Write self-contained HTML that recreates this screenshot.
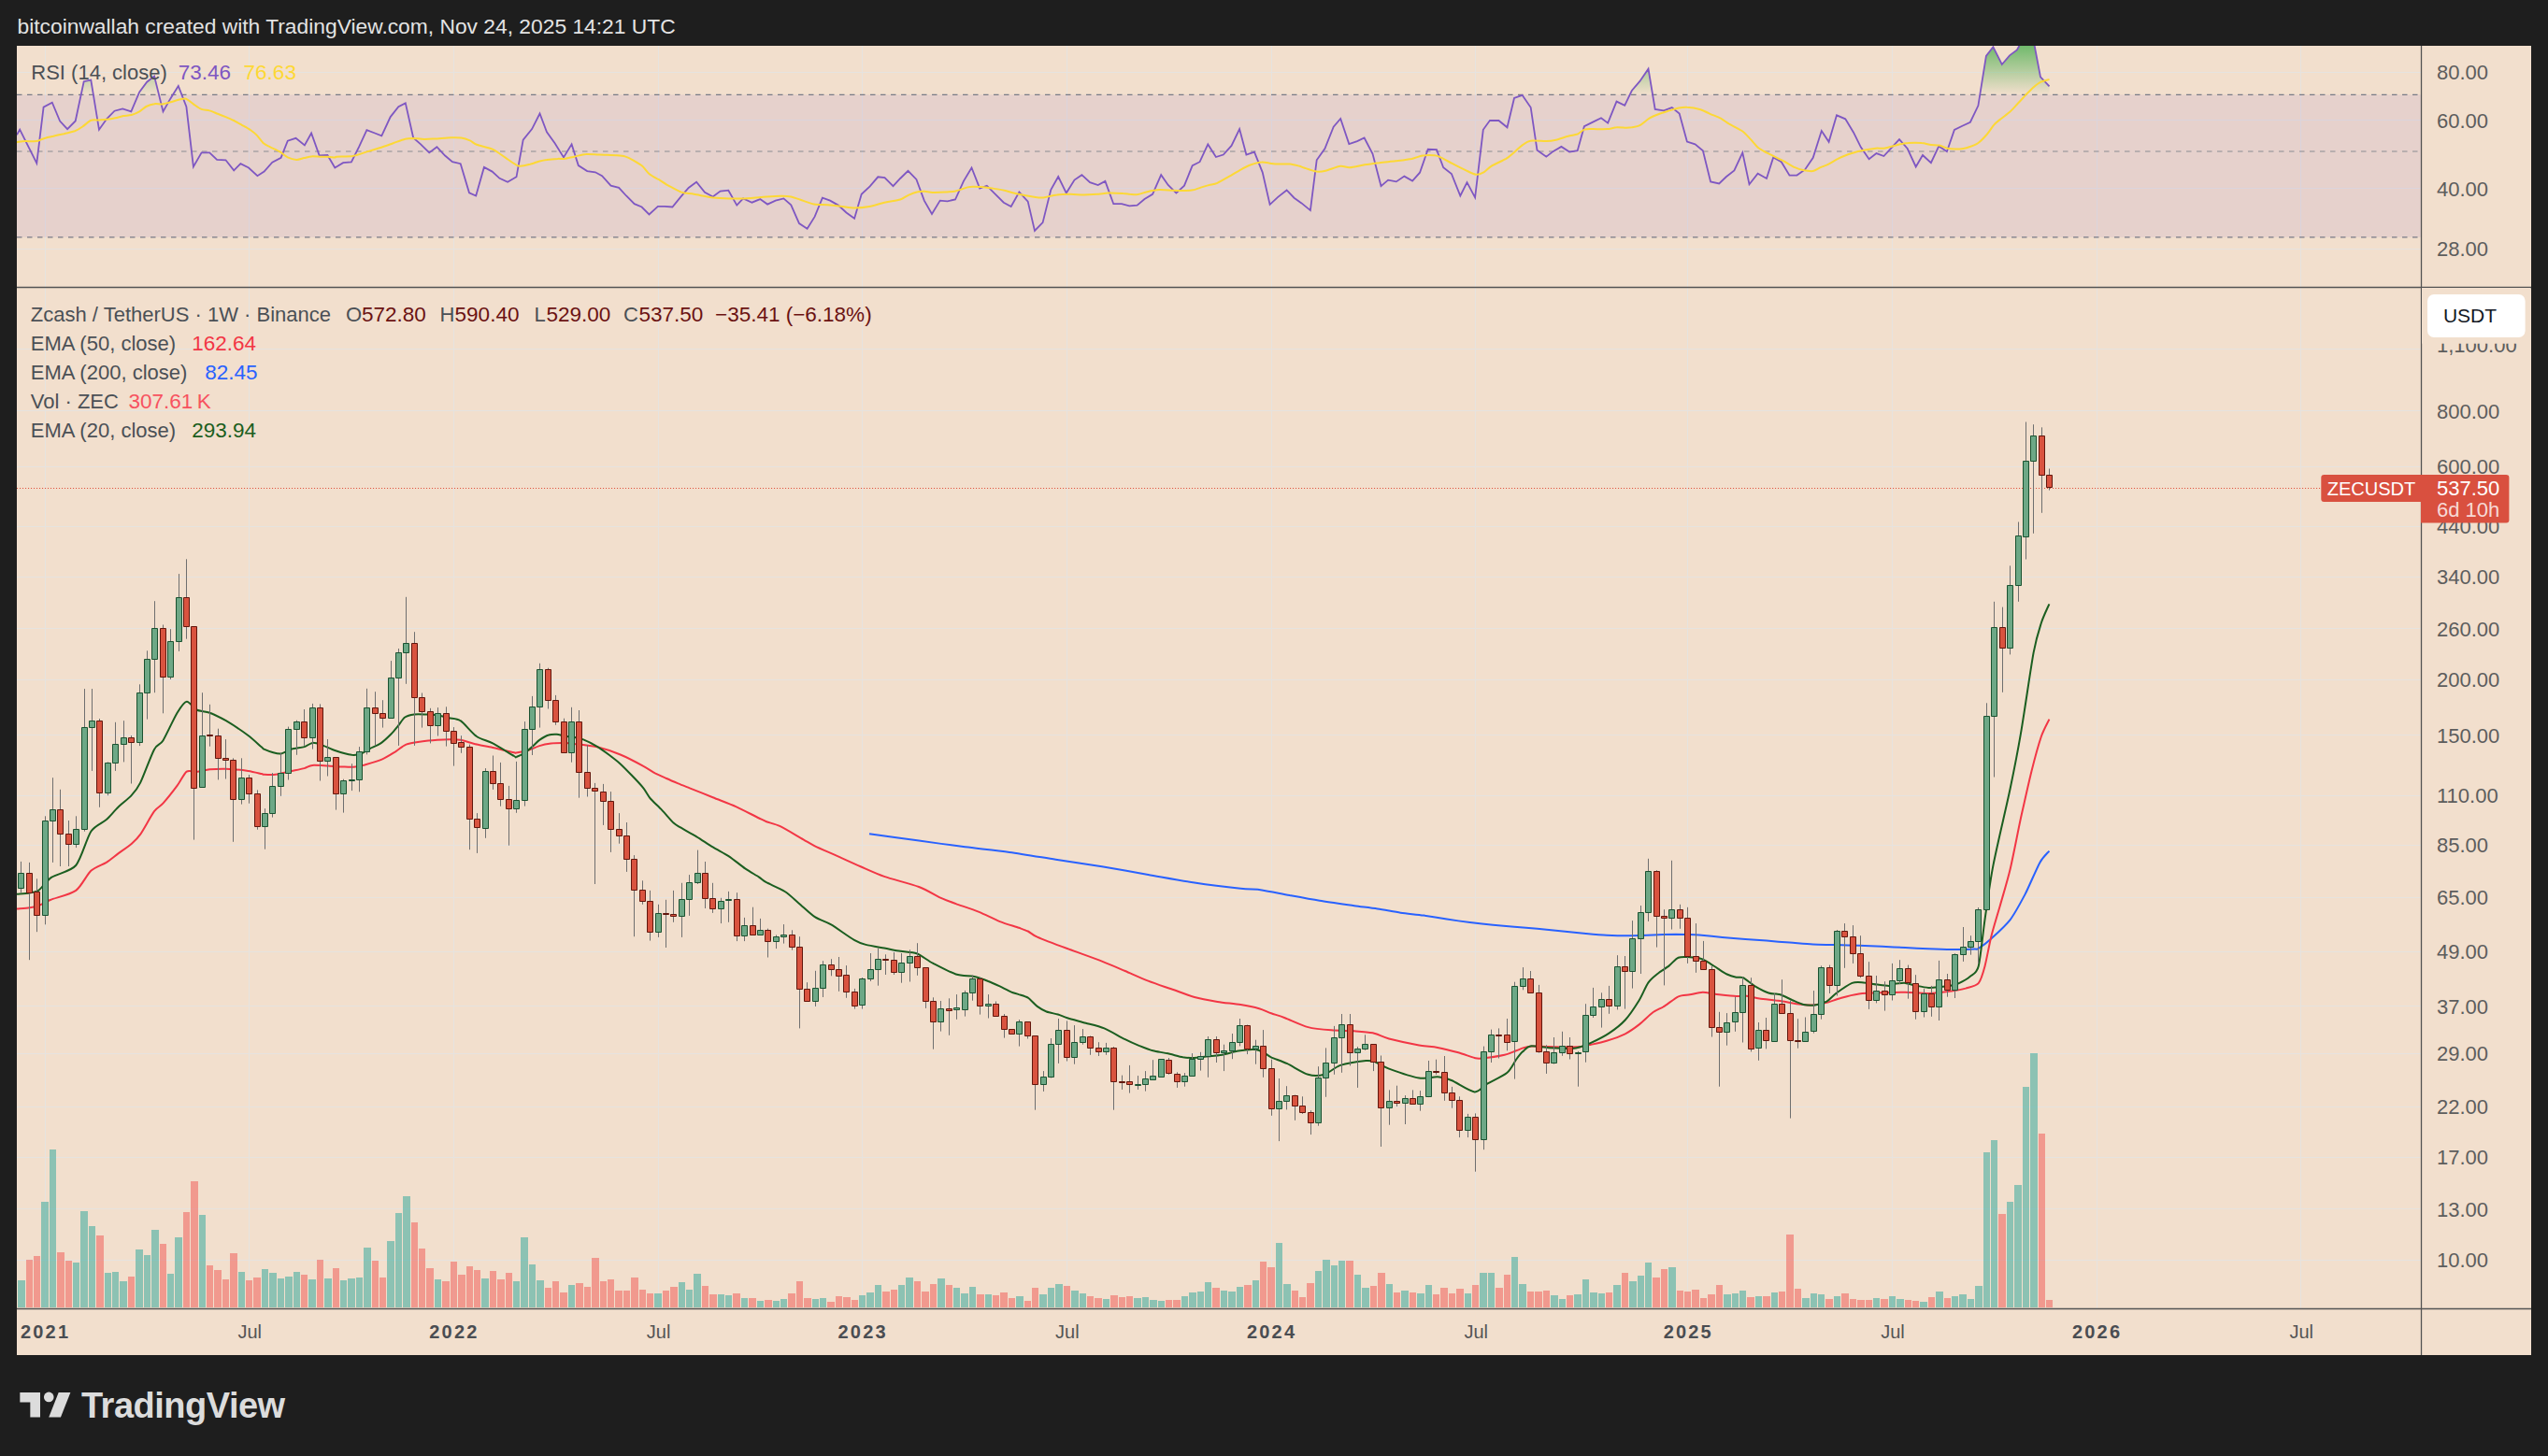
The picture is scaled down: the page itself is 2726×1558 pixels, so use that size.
<!DOCTYPE html>
<html><head><meta charset="utf-8"><style>html,body{margin:0;padding:0;background:#1e1e1e;width:2726px;height:1558px;overflow:hidden}</style></head>
<body><svg width="2726" height="1558" viewBox="0 0 2726 1558" style="display:block"><rect x="0" y="0" width="2726" height="1558" fill="#1e1e1e"/><text x="18.5" y="36" font-family="Liberation Sans, sans-serif" font-size="22.8" fill="#e3e3e3">bitcoinwallah created with TradingView.com, Nov 24, 2025 14:21 UTC</text><rect x="18" y="49" width="2690" height="1401" fill="#f2dfcd"/><defs><clipPath id="rsiclip"><rect x="18" y="49" width="2572" height="258"/></clipPath><clipPath id="mainclip"><rect x="18" y="308" width="2572" height="1092"/></clipPath><linearGradient id="obg" gradientUnits="userSpaceOnUse" x1="0" y1="37.2" x2="0" y2="101.4"><stop offset="0" stop-color="#4caf50" stop-opacity="0.95"/><stop offset="1" stop-color="#4caf50" stop-opacity="0"/></linearGradient></defs><path d="M48.5 49V1400M266.5 49V1400M485.5 49V1400M704.5 49V1400M922.5 49V1400M1141.5 49V1400M1360.5 49V1400M1578.5 49V1400M1805.5 49V1400M2024.5 49V1400M2243.5 49V1400M2461.5 49V1400M18 77.5H2590M18 128.5H2590M18 201.5H2590M18 266.5H2590M18 373.5H2590M18 439.5H2590M18 499.5H2590M18 563.5H2590M18 617.5H2590M18 672.5H2590M18 727.5H2590M18 786.5H2590M18 851.5H2590M18 904.5H2590M18 960.5H2590M18 1018.5H2590M18 1076.5H2590M18 1127.5H2590M18 1184.5H2590M18 1238.5H2590M18 1293.5H2590M18 1348.5H2590" stroke="#e6e3df" stroke-width="1" fill="none"/><g clip-path="url(#rsiclip)"><rect x="18" y="101.4" width="2572" height="152.5" fill="rgb(126,87,194)" fill-opacity="0.1"/><polygon points="18,101.4 18.0,101.4 21.2,101.4 39.3,101.4 46.6,101.4 55.8,101.4 64.1,101.4 72.1,101.4 80.7,101.4 86.7,101.4 89.7,87.2 97.3,85.5 99.9,101.4 106.0,101.4 114.3,101.4 122.5,101.4 131.2,101.4 140.3,101.4 148.0,101.4 149.2,98.5 157.2,87.7 165.1,81.5 170.0,101.4 174.5,101.4 182.4,101.4 184.9,101.4 190.8,92.0 194.4,101.4 199.4,101.4 206.9,101.4 215.6,101.4 224.2,101.4 232.1,101.4 241.5,101.4 250.2,101.4 257.4,101.4 266.0,101.4 275.4,101.4 282.6,101.4 291.3,101.4 300.6,101.4 307.8,101.4 316.5,101.4 325.9,101.4 333.1,101.4 341.7,101.4 350.4,101.4 358.3,101.4 367.1,101.4 375.9,101.4 384.2,101.4 392.4,101.4 401.1,101.4 408.3,101.4 417.7,101.4 426.3,101.4 433.8,101.4 442.2,101.4 450.1,101.4 459.2,101.4 467.4,101.4 476.1,101.4 484.0,101.4 492.7,101.4 502.0,101.4 509.2,101.4 517.9,101.4 526.6,101.4 534.5,101.4 543.1,101.4 552.5,101.4 559.7,101.4 569.1,101.4 577.5,101.4 585.0,101.4 593.6,101.4 603.0,101.4 611.6,101.4 618.8,101.4 628.2,101.4 636.9,101.4 644.1,101.4 653.5,101.4 662.1,101.4 670.0,101.4 678.7,101.4 686.6,101.4 694.5,101.4 703.9,101.4 710.9,101.4 719.4,101.4 728.1,101.4 736.7,101.4 745.1,101.4 754.0,101.4 762.7,101.4 770.6,101.4 779.3,101.4 788.3,101.4 795.1,101.4 804.5,101.4 813.2,101.4 821.1,101.4 829.7,101.4 838.4,101.4 846.3,101.4 855.0,101.4 863.6,101.4 871.6,101.4 879.9,101.4 888.1,101.4 896.8,101.4 905.4,101.4 914.1,101.4 921.7,101.4 930.7,101.4 939.3,101.4 946.5,101.4 955.5,101.4 963.1,101.4 971.5,101.4 980.4,101.4 988.8,101.4 997.0,101.4 1005.7,101.4 1013.6,101.4 1022.0,101.4 1030.9,101.4 1039.5,101.4 1048.2,101.4 1055.8,101.4 1064.4,101.4 1073.8,101.4 1081.7,101.4 1090.4,101.4 1099.7,101.4 1107.0,101.4 1115.6,101.4 1124.3,101.4 1132.2,101.4 1140.8,101.4 1149.5,101.4 1157.4,101.4 1166.1,101.4 1174.7,101.4 1182.4,101.4 1191.3,101.4 1200.0,101.4 1208.3,101.4 1216.6,101.4 1224.5,101.4 1233.1,101.4 1242.2,101.4 1249.7,101.4 1258.4,101.4 1267.0,101.4 1275.7,101.4 1283.6,101.4 1292.3,101.4 1300.9,101.4 1308.8,101.4 1317.5,101.4 1326.1,101.4 1333.4,101.4 1342.0,101.4 1350.7,101.4 1358.6,101.4 1367.2,101.4 1376.6,101.4 1384.5,101.4 1392.5,101.4 1401.9,101.4 1408.7,101.4 1417.4,101.4 1426.7,101.4 1434.2,101.4 1443.3,101.4 1452.0,101.4 1459.6,101.4 1468.5,101.4 1477.5,101.4 1485.1,101.4 1493.8,101.4 1502.4,101.4 1511.1,101.4 1519.0,101.4 1527.7,101.4 1537.0,101.4 1544.2,101.4 1552.9,101.4 1562.3,101.4 1569.5,101.4 1578.1,101.4 1586.8,101.4 1594.0,101.4 1603.4,101.4 1612.5,101.4 1620.0,101.4 1628.6,101.4 1637.7,101.4 1644.5,101.4 1654.3,101.4 1661.8,101.4 1670.4,101.4 1679.1,101.4 1687.7,101.4 1694.9,101.4 1703.6,101.4 1713.0,101.4 1720.2,101.4 1729.5,101.4 1738.2,101.4 1743.7,101.4 1745.8,97.0 1754.4,86.9 1763.5,73.7 1768.1,101.4 1770.7,101.4 1780.1,101.4 1788.7,101.4 1796.7,101.4 1804.9,101.4 1813.5,101.4 1821.9,101.4 1830.1,101.4 1839.2,101.4 1846.7,101.4 1855.4,101.4 1864.3,101.4 1871.5,101.4 1880.6,101.4 1890.0,101.4 1897.2,101.4 1905.8,101.4 1914.5,101.4 1922.4,101.4 1931.1,101.4 1939.7,101.4 1948.8,101.4 1956.6,101.4 1965.0,101.4 1974.3,101.4 1983.0,101.4 1990.9,101.4 1999.6,101.4 2007.5,101.4 2015.4,101.4 2024.1,101.4 2032.0,101.4 2040.7,101.4 2049.7,101.4 2057.0,101.4 2065.9,101.4 2074.3,101.4 2082.9,101.4 2090.9,101.4 2099.4,101.4 2107.9,101.4 2116.4,101.4 2118.3,101.4 2124.9,59.9 2132.4,50.3 2141.8,69.0 2150.0,59.4 2157.9,53.5 2165.9,38.6 2174.3,36.5 2183.0,82.3 2192.5,92.4 2192.5,101.4" fill="url(#obg)"/><line x1="18" y1="101.4" x2="2590" y2="101.4" stroke="#787b86" stroke-opacity="1" stroke-width="1.3" stroke-dasharray="5.5 5.5"/><line x1="18" y1="162.0" x2="2590" y2="162.0" stroke="#787b86" stroke-opacity="0.55" stroke-width="1.3" stroke-dasharray="5.5 5.5"/><line x1="18" y1="253.9" x2="2590" y2="253.9" stroke="#787b86" stroke-opacity="1" stroke-width="1.3" stroke-dasharray="5.5 5.5"/><polyline points="18.0,144.3 21.2,138.6 39.3,174.6 46.6,114.6 55.8,109.7 64.1,129.5 72.1,138.1 80.7,129.5 89.7,87.2 97.3,85.5 106.0,138.8 114.3,127.0 122.5,118.7 131.2,116.5 140.3,119.4 149.2,98.5 157.2,87.7 165.1,81.5 174.5,119.4 182.4,105.4 190.8,92.0 199.4,114.3 206.9,178.5 215.6,163.4 224.2,163.4 232.1,170.9 241.5,171.3 250.2,182.4 257.4,175.2 266.0,179.5 275.4,188.2 282.6,183.6 291.3,173.7 300.6,168.8 307.8,150.7 316.5,147.8 325.9,155.4 333.1,142.5 341.7,166.5 350.4,166.0 358.3,179.5 367.1,174.2 375.9,173.5 384.2,156.9 392.4,139.1 401.1,142.5 408.3,145.3 417.7,125.1 426.3,114.3 433.8,110.4 442.2,147.5 450.1,154.4 459.2,163.4 467.4,157.2 476.1,166.5 484.0,173.2 492.7,175.2 502.0,206.3 509.2,209.5 517.9,178.9 526.6,183.6 534.5,190.8 543.1,194.8 552.5,189.3 559.7,149.7 569.1,138.1 577.5,121.5 585.0,141.4 593.6,153.3 603.0,168.4 611.6,154.4 618.8,177.1 628.2,183.1 636.9,184.3 644.1,188.2 653.5,198.7 662.1,200.9 670.0,209.5 678.7,218.2 686.6,221.5 694.5,229.4 703.9,220.8 710.9,220.8 719.4,221.5 728.1,210.9 736.7,200.9 745.1,194.8 754.0,205.9 762.7,210.5 770.6,204.5 779.3,203.7 788.3,219.6 795.1,212.4 804.5,216.7 813.2,213.1 821.1,218.6 829.7,214.6 838.4,212.4 846.3,219.3 855.0,239.1 863.6,244.8 871.6,231.9 879.9,211.7 888.1,214.6 896.8,219.6 905.4,227.5 914.1,233.7 921.7,207.8 930.7,199.4 939.3,189.3 946.5,190.0 955.5,199.1 963.1,191.0 971.5,182.8 980.4,191.9 988.8,214.6 997.0,229.0 1005.7,214.6 1013.6,215.3 1022.0,213.5 1030.9,193.9 1039.5,179.5 1048.2,201.6 1055.8,198.7 1064.4,207.3 1073.8,216.7 1081.7,221.0 1090.4,205.5 1099.7,215.6 1107.0,247.0 1115.6,238.1 1124.3,203.0 1132.2,189.0 1140.8,206.6 1149.5,192.6 1157.4,187.2 1166.1,195.1 1174.7,198.0 1182.4,193.9 1191.3,218.2 1200.0,218.2 1208.3,220.3 1216.6,219.6 1224.5,213.1 1233.1,207.8 1242.2,187.2 1249.7,198.0 1258.4,206.6 1267.0,198.7 1275.7,177.1 1283.6,173.2 1292.3,154.4 1300.9,168.0 1308.8,165.5 1317.5,155.9 1326.1,138.1 1333.4,165.5 1342.0,162.6 1350.7,184.3 1358.6,218.9 1367.2,210.9 1376.6,203.5 1384.5,211.7 1392.5,217.4 1401.9,225.1 1408.7,171.3 1417.4,159.0 1426.7,135.7 1434.2,127.0 1443.3,154.0 1452.0,151.1 1459.6,147.5 1468.5,164.5 1477.5,199.1 1485.1,192.6 1493.8,194.4 1502.4,188.6 1511.1,193.6 1519.0,184.7 1527.7,159.8 1537.0,160.2 1544.2,179.2 1552.9,186.0 1562.3,209.5 1569.5,195.1 1578.1,211.4 1586.8,138.8 1594.0,128.8 1603.4,129.0 1612.5,136.3 1620.0,105.0 1628.6,101.8 1637.7,115.1 1644.5,160.8 1654.3,167.7 1661.8,161.9 1670.4,156.9 1679.1,162.6 1687.7,161.2 1694.9,135.2 1703.6,130.9 1713.0,126.3 1720.2,131.6 1729.5,108.6 1738.2,112.9 1745.8,97.0 1754.4,86.9 1763.5,73.7 1770.7,116.9 1780.1,118.4 1788.7,115.1 1796.7,121.5 1804.9,151.5 1813.5,154.4 1821.9,161.2 1830.1,194.4 1839.2,196.5 1846.7,189.3 1855.4,182.4 1864.3,163.4 1871.5,197.2 1880.6,185.7 1890.0,191.0 1897.2,168.4 1905.8,173.2 1914.5,187.6 1922.4,187.6 1931.1,181.4 1939.7,168.8 1948.8,140.0 1956.6,151.8 1965.0,123.3 1974.3,127.3 1983.0,141.7 1990.9,157.6 1999.6,170.3 2007.5,164.1 2015.4,167.0 2024.1,157.6 2032.0,149.2 2040.7,159.0 2049.7,178.5 2057.0,166.0 2065.9,174.2 2074.3,156.4 2082.9,162.2 2090.9,138.9 2099.4,134.7 2107.9,130.7 2116.4,113.1 2124.9,59.9 2132.4,50.3 2141.8,69.0 2150.0,59.4 2157.9,53.5 2165.9,38.6 2174.3,36.5 2183.0,82.3 2192.5,92.4" fill="none" stroke="#7e57c2" stroke-width="1.8" stroke-linejoin="miter"/><path d="M18.0 152.1C19.2 152.0 23.8 151.2 26.7 151.1C29.5 151.0 36.7 151.5 39.3 151.1C42.0 150.7 44.5 148.9 46.8 148.2C49.2 147.5 54.1 146.4 56.9 145.8C59.8 145.1 65.4 143.9 68.5 143.2C71.5 142.4 77.3 141.3 80.0 140.3C82.7 139.2 86.4 136.8 88.7 135.2C91.0 133.7 95.0 129.7 97.3 128.8C99.6 127.8 103.7 128.6 106.0 128.5C108.3 128.3 112.3 128.0 114.6 127.7C116.9 127.5 121.0 126.8 123.3 126.3C125.6 125.8 129.6 124.6 131.9 124.1C134.2 123.7 138.3 123.6 140.6 123.0C142.9 122.4 147.1 120.6 149.2 119.4C151.3 118.2 154.3 115.1 156.4 114.0C158.5 112.9 162.8 111.5 165.1 111.2C167.4 110.8 171.4 111.7 173.7 111.4C176.0 111.2 180.1 109.9 182.4 109.3C184.7 108.7 188.8 107.3 191.0 106.8C193.3 106.4 196.9 105.1 199.0 105.7C201.1 106.3 204.7 109.9 206.9 111.4C209.1 112.9 213.2 116.0 215.6 116.9C217.9 117.9 221.9 117.7 224.2 118.4C226.5 119.0 230.6 120.9 232.9 121.8C235.2 122.7 239.2 124.2 241.5 125.1C243.8 126.1 247.9 127.9 250.2 129.0C252.5 130.2 256.5 132.5 258.8 133.8C261.1 135.1 265.4 137.4 267.5 138.8C269.6 140.3 272.8 142.7 274.7 144.6C276.6 146.5 280.0 151.6 281.9 153.3C283.8 155.0 286.8 156.1 289.1 157.3C291.4 158.5 296.7 160.7 299.2 162.2C301.7 163.7 305.4 167.3 307.8 168.4C310.3 169.6 314.9 170.8 317.2 170.9C319.5 171.0 323.0 169.6 325.2 169.1C327.3 168.7 330.8 167.6 333.1 167.4C335.4 167.2 340.1 167.6 342.5 167.7C344.9 167.7 349.0 167.6 351.1 167.7C353.2 167.8 357.1 168.6 358.3 168.6C359.5 168.6 357.5 167.9 360.0 167.7C362.5 167.5 373.1 167.6 377.3 167.0C381.5 166.3 387.9 163.8 391.7 162.6C395.6 161.5 402.3 159.6 406.1 158.3C410.0 157.1 416.9 154.6 420.6 153.3C424.2 152.0 430.7 149.4 433.5 148.7C436.4 147.9 439.5 147.9 442.2 147.9C444.9 148.0 450.7 148.9 453.7 148.9C456.8 149.0 461.4 148.7 465.3 148.5C469.1 148.3 478.8 147.3 482.6 147.2C486.3 147.1 490.7 147.1 493.4 147.5C496.1 147.9 500.5 149.4 502.8 150.4C505.0 151.3 506.7 153.5 510.0 154.7C513.2 156.0 523.2 157.9 527.3 159.8C531.3 161.6 536.6 166.0 540.3 168.4C543.9 170.8 551.0 176.5 554.7 177.5C558.3 178.5 564.8 176.3 567.7 175.6C570.5 175.0 574.0 173.4 576.3 172.7C578.6 172.1 582.3 171.2 585.0 170.9C587.6 170.5 594.0 170.0 596.5 169.9C599.0 169.7 601.2 170.2 603.7 169.9C606.2 169.5 612.2 168.0 615.2 167.4C618.3 166.8 623.3 165.3 626.8 165.1C630.2 164.8 636.8 165.4 641.2 165.5C645.6 165.7 656.3 166.0 659.9 166.2C663.6 166.5 666.3 166.7 668.6 167.4C670.9 168.1 674.7 169.9 677.2 171.3C679.7 172.7 685.0 175.8 687.3 177.8C689.6 179.8 692.4 184.3 694.5 186.1C696.7 188.0 701.8 190.7 703.2 191.5C704.6 192.3 703.2 191.1 705.0 192.2C706.8 193.3 713.3 197.6 716.5 199.4C719.8 201.2 726.1 204.8 729.5 205.9C733.0 207.0 738.1 207.0 742.5 207.8C746.9 208.5 757.7 210.8 762.7 211.4C767.7 212.0 775.8 212.3 780.0 212.4C784.2 212.5 789.8 212.6 794.4 212.4C799.0 212.2 809.2 211.3 814.6 210.9C820.0 210.6 830.6 209.9 834.8 209.8C839.0 209.7 843.4 210.0 846.3 210.5C849.2 211.1 853.1 212.8 856.4 213.8C859.7 214.9 867.0 217.9 870.8 218.6C874.7 219.3 881.4 218.9 885.3 219.2C889.1 219.5 895.8 220.3 899.7 220.8C903.5 221.2 910.1 222.4 914.1 222.5C918.1 222.5 925.5 221.9 930.0 221.0C934.4 220.2 942.8 217.4 947.3 216.4C951.7 215.4 959.9 214.6 963.1 213.5C966.4 212.5 969.3 209.9 971.8 208.8C974.3 207.7 979.6 205.7 981.9 205.2C984.2 204.6 987.0 204.7 989.1 204.7C991.2 204.8 994.7 205.8 997.7 205.9C1000.8 206.0 1008.9 205.7 1012.2 205.5C1015.4 205.3 1019.2 205.1 1022.2 204.5C1025.3 203.8 1032.7 201.1 1035.2 200.4C1037.7 199.8 1039.0 199.7 1041.0 199.7C1043.0 199.7 1047.3 199.9 1050.0 200.1C1052.7 200.4 1058.3 201.1 1061.5 201.6C1064.8 202.1 1071.1 203.0 1074.5 203.7C1078.0 204.5 1083.1 206.4 1087.5 207.3C1091.9 208.3 1103.8 210.4 1107.7 210.9C1111.5 211.5 1113.3 211.7 1116.3 211.4C1119.4 211.0 1126.9 208.8 1130.8 208.4C1134.6 207.9 1141.3 207.8 1145.2 207.8C1149.0 207.8 1155.6 208.5 1159.6 208.5C1163.6 208.5 1172.0 208.0 1175.5 207.8C1178.9 207.5 1182.1 206.7 1185.6 206.6C1189.0 206.5 1198.3 206.9 1201.4 207.1C1204.5 207.2 1206.5 207.6 1208.6 207.8C1210.7 207.9 1214.8 208.4 1217.3 208.1C1219.8 207.7 1224.3 205.9 1227.4 205.2C1230.4 204.5 1236.7 203.2 1240.3 203.0C1244.0 202.8 1251.3 203.6 1254.8 203.7C1258.2 203.9 1263.4 204.1 1266.3 204.0C1269.2 204.0 1273.7 203.8 1276.4 203.3C1279.1 202.8 1284.2 200.8 1286.5 200.1C1288.8 199.4 1291.6 198.5 1293.7 198.0C1295.8 197.4 1299.3 197.2 1302.4 195.8C1305.4 194.5 1313.5 189.7 1316.8 187.9C1320.0 186.0 1324.0 183.4 1326.9 181.8C1329.8 180.3 1335.3 177.5 1338.4 176.3C1341.5 175.2 1347.1 173.6 1349.9 173.5C1352.8 173.3 1357.3 174.6 1360.0 174.9C1362.7 175.2 1367.4 175.5 1370.1 175.6C1372.8 175.7 1377.5 175.3 1380.2 175.6C1382.9 175.9 1388.3 177.3 1390.3 177.8C1392.3 178.3 1392.5 178.7 1395.0 179.5C1397.5 180.3 1405.6 183.1 1408.7 183.6C1411.8 184.0 1414.7 183.6 1418.1 182.8C1421.4 182.1 1430.5 178.3 1433.9 177.8C1437.4 177.3 1440.6 179.4 1444.0 179.2C1447.5 179.0 1455.7 177.0 1459.9 176.3C1464.1 175.7 1471.3 174.7 1475.8 174.2C1480.2 173.6 1488.4 172.9 1493.1 172.3C1497.7 171.7 1506.5 170.6 1510.4 169.9C1514.2 169.1 1518.8 167.0 1521.9 166.5C1525.0 166.1 1531.1 166.1 1533.4 166.2C1535.7 166.4 1536.5 166.2 1539.2 167.4C1541.9 168.6 1549.8 172.9 1553.6 174.9C1557.5 176.9 1564.7 180.5 1568.0 182.1C1571.4 183.7 1576.4 186.4 1578.9 186.7C1581.4 187.1 1584.6 185.9 1586.8 184.7C1589.0 183.5 1592.2 179.8 1595.4 177.8C1598.7 175.8 1608.0 171.8 1611.3 169.9C1614.6 167.9 1617.6 164.9 1620.0 162.9C1622.3 161.0 1626.3 157.1 1628.6 155.4C1630.9 153.8 1633.8 151.2 1637.3 150.7C1640.7 150.1 1650.9 151.2 1654.6 151.1C1658.2 151.0 1661.6 150.4 1664.7 149.7C1667.7 149.0 1674.6 146.6 1677.6 145.8C1680.7 144.9 1685.4 144.4 1687.7 143.5C1690.0 142.5 1692.6 139.3 1694.9 138.6C1697.2 137.8 1701.8 138.2 1705.0 138.1C1708.3 138.1 1716.2 138.4 1719.5 138.1C1722.7 137.9 1726.8 136.4 1729.5 136.3C1732.3 136.1 1737.8 136.7 1740.0 136.7C1742.2 136.7 1743.8 136.6 1745.8 136.3C1747.7 135.9 1751.9 135.5 1754.4 134.2C1756.9 132.9 1761.6 128.3 1764.5 126.6C1767.4 124.9 1773.2 122.6 1776.1 121.5C1778.9 120.4 1783.5 119.2 1786.1 118.4C1788.8 117.6 1793.7 116.0 1796.2 115.5C1798.7 115.0 1801.8 114.5 1804.9 114.8C1808.0 115.0 1816.0 116.3 1819.3 117.2C1822.6 118.2 1826.5 120.6 1829.4 121.8C1832.3 123.1 1838.2 125.2 1840.9 126.6C1843.6 128.0 1846.5 130.5 1849.6 132.4C1852.7 134.2 1860.9 138.1 1864.0 140.3C1867.1 142.5 1870.4 146.5 1872.7 148.9C1875.0 151.3 1879.0 156.4 1881.3 158.3C1883.6 160.2 1887.7 162.1 1890.0 163.4C1892.3 164.6 1895.9 166.3 1898.6 167.7C1901.3 169.0 1907.3 171.9 1910.2 173.5C1913.0 175.0 1917.8 178.1 1920.3 179.2C1922.8 180.4 1926.3 181.6 1928.9 182.1C1931.5 182.6 1937.2 183.5 1939.7 183.1C1942.2 182.7 1945.4 180.2 1947.7 179.2C1949.9 178.2 1953.8 176.9 1956.3 175.6C1958.8 174.4 1963.7 171.2 1966.4 169.9C1969.1 168.5 1973.6 166.6 1976.5 165.5C1979.4 164.5 1984.0 162.8 1988.0 161.9C1992.1 161.0 2003.1 159.2 2006.8 158.7C2010.4 158.3 2012.2 159.3 2015.4 158.7C2018.7 158.2 2027.8 155.5 2031.3 154.7C2034.7 153.9 2038.1 153.2 2041.4 153.0C2044.7 152.7 2052.5 152.7 2055.8 153.0C2059.1 153.2 2063.4 154.7 2065.9 155.0C2068.4 155.3 2072.4 155.1 2074.7 155.6C2077.1 156.1 2081.1 158.2 2083.4 158.7C2085.7 159.2 2089.7 159.4 2091.9 159.4C2094.2 159.5 2098.5 159.2 2100.5 158.9C2102.4 158.6 2104.7 158.1 2106.8 157.3C2109.0 156.5 2113.9 154.9 2116.4 153.0C2119.0 151.2 2123.7 146.1 2126.0 143.5C2128.3 140.8 2131.5 135.6 2133.5 133.4C2135.4 131.2 2138.6 128.8 2140.9 127.0C2143.2 125.1 2148.1 121.7 2150.5 119.5C2152.9 117.3 2156.7 112.9 2159.0 110.5C2161.3 108.1 2165.2 103.8 2167.5 101.4C2169.8 99.1 2173.9 94.7 2176.0 92.9C2178.2 91.1 2181.3 88.6 2183.5 87.6C2185.7 86.5 2191.3 85.3 2192.5 84.9" fill="none" stroke="#fdd835" stroke-width="2"/></g><g clip-path="url(#mainclip)"><path d="M19 1399V1370H27V1399ZM44 1399V1286H52V1399ZM53 1399V1230H60V1399ZM78 1399V1351H85V1399ZM86 1399V1296H94V1399ZM95 1399V1312H102V1399ZM112 1399V1362H119V1399ZM120 1399V1361H127V1399ZM128 1399V1371H136V1399ZM145 1399V1337H153V1399ZM154 1399V1343H161V1399ZM162 1399V1316H170V1399ZM179 1399V1363H186V1399ZM187 1399V1324H195V1399ZM213 1399V1300H220V1399ZM255 1399V1361H262V1399ZM280 1399V1358H287V1399ZM288 1399V1362H296V1399ZM297 1399V1368H304V1399ZM305 1399V1366H313V1399ZM314 1399V1361H321V1399ZM330 1399V1369H338V1399ZM347 1399V1368H355V1399ZM364 1399V1370H371V1399ZM372 1399V1368H380V1399ZM381 1399V1367H388V1399ZM389 1399V1335H397V1399ZM414 1399V1328H422V1399ZM423 1399V1298H430V1399ZM431 1399V1280H439V1399ZM465 1399V1369H472V1399ZM515 1399V1368H523V1399ZM549 1399V1371H556V1399ZM557 1399V1324H565V1399ZM566 1399V1353H573V1399ZM574 1399V1370H582V1399ZM608 1399V1375H615V1399ZM700 1399V1384H708V1399ZM726 1399V1372H733V1399ZM734 1399V1380H741V1399ZM742 1399V1363H750V1399ZM768 1399V1385H775V1399ZM776 1399V1386H783V1399ZM793 1399V1389H800V1399ZM810 1399V1392H817V1399ZM827 1399V1392H834V1399ZM835 1399V1390H842V1399ZM869 1399V1390H876V1399ZM877 1399V1389H884V1399ZM919 1399V1386H926V1399ZM927 1399V1383H935V1399ZM936 1399V1375H943V1399ZM961 1399V1375H968V1399ZM969 1399V1367H977V1399ZM1003 1399V1368H1011V1399ZM1020 1399V1378H1027V1399ZM1028 1399V1384H1036V1399ZM1037 1399V1377H1044V1399ZM1054 1399V1385H1061V1399ZM1087 1399V1387H1095V1399ZM1112 1399V1385H1120V1399ZM1121 1399V1378H1128V1399ZM1129 1399V1374H1137V1399ZM1146 1399V1381H1154V1399ZM1155 1399V1384H1162V1399ZM1180 1399V1390H1187V1399ZM1213 1399V1389H1221V1399ZM1222 1399V1388H1229V1399ZM1230 1399V1391H1238V1399ZM1239 1399V1392H1246V1399ZM1264 1399V1387H1271V1399ZM1272 1399V1383H1280V1399ZM1281 1399V1382H1288V1399ZM1289 1399V1372H1296V1399ZM1306 1399V1381H1313V1399ZM1314 1399V1382H1322V1399ZM1323 1399V1377H1330V1399ZM1340 1399V1370H1347V1399ZM1365 1399V1330H1372V1399ZM1373 1399V1374H1381V1399ZM1407 1399V1360H1414V1399ZM1415 1399V1348H1423V1399ZM1424 1399V1354H1431V1399ZM1432 1399V1349H1439V1399ZM1449 1399V1364H1456V1399ZM1457 1399V1378H1465V1399ZM1483 1399V1374H1490V1399ZM1499 1399V1381H1507V1399ZM1516 1399V1384H1524V1399ZM1525 1399V1375H1532V1399ZM1567 1399V1384H1574V1399ZM1583 1399V1362H1591V1399ZM1592 1399V1362H1599V1399ZM1617 1399V1345H1624V1399ZM1625 1399V1374H1633V1399ZM1659 1399V1386H1667V1399ZM1668 1399V1390H1675V1399ZM1684 1399V1385H1692V1399ZM1693 1399V1369H1700V1399ZM1701 1399V1383H1709V1399ZM1710 1399V1384H1717V1399ZM1726 1399V1375H1734V1399ZM1743 1399V1371H1751V1399ZM1752 1399V1365H1759V1399ZM1760 1399V1351H1767V1399ZM1785 1399V1356H1793V1399ZM1844 1399V1385H1852V1399ZM1853 1399V1384H1860V1399ZM1861 1399V1381H1868V1399ZM1878 1399V1387H1885V1399ZM1895 1399V1383H1902V1399ZM1928 1399V1389H1936V1399ZM1937 1399V1384H1944V1399ZM1945 1399V1385H1952V1399ZM1962 1399V1387H1969V1399ZM2004 1399V1389H2011V1399ZM2021 1399V1387H2028V1399ZM2029 1399V1390H2037V1399ZM2054 1399V1393H2062V1399ZM2071 1399V1382H2079V1399ZM2088 1399V1387H2095V1399ZM2096 1399V1385H2104V1399ZM2105 1399V1390H2112V1399ZM2113 1399V1376H2121V1399ZM2122 1399V1233H2129V1399ZM2130 1399V1220H2137V1399ZM2147 1399V1286H2154V1399ZM2155 1399V1268H2163V1399ZM2164 1399V1163H2171V1399ZM2172 1399V1127H2180V1399Z" fill="rgb(38,166,154)" fill-opacity="0.5"/><path d="M28 1399V1348H35V1399ZM36 1399V1344H43V1399ZM61 1399V1340H69V1399ZM70 1399V1349H77V1399ZM103 1399V1322H111V1399ZM137 1399V1366H144V1399ZM171 1399V1331H178V1399ZM196 1399V1297H203V1399ZM204 1399V1264H212V1399ZM221 1399V1354H228V1399ZM229 1399V1359H237V1399ZM238 1399V1369H245V1399ZM246 1399V1341H254V1399ZM263 1399V1370H270V1399ZM271 1399V1367H279V1399ZM322 1399V1364H329V1399ZM339 1399V1348H346V1399ZM356 1399V1357H363V1399ZM398 1399V1349H405V1399ZM406 1399V1367H413V1399ZM440 1399V1308H447V1399ZM448 1399V1336H455V1399ZM456 1399V1357H464V1399ZM473 1399V1371H481V1399ZM482 1399V1350H489V1399ZM490 1399V1364H498V1399ZM499 1399V1355H506V1399ZM507 1399V1359H514V1399ZM524 1399V1360H531V1399ZM532 1399V1369H540V1399ZM541 1399V1362H548V1399ZM583 1399V1378H590V1399ZM591 1399V1371H598V1399ZM599 1399V1383H607V1399ZM616 1399V1373H624V1399ZM625 1399V1377H632V1399ZM633 1399V1346H641V1399ZM642 1399V1371H649V1399ZM650 1399V1369H657V1399ZM658 1399V1381H666V1399ZM667 1399V1381H674V1399ZM675 1399V1367H683V1399ZM684 1399V1380H691V1399ZM692 1399V1384H699V1399ZM709 1399V1381H716V1399ZM717 1399V1377H725V1399ZM751 1399V1376H758V1399ZM759 1399V1385H767V1399ZM784 1399V1384H792V1399ZM801 1399V1389H809V1399ZM818 1399V1391H826V1399ZM843 1399V1384H851V1399ZM852 1399V1371H859V1399ZM860 1399V1389H868V1399ZM885 1399V1393H893V1399ZM894 1399V1387H901V1399ZM902 1399V1388H910V1399ZM911 1399V1391H918V1399ZM944 1399V1382H952V1399ZM953 1399V1380H960V1399ZM978 1399V1371H985V1399ZM986 1399V1382H994V1399ZM995 1399V1374H1002V1399ZM1012 1399V1375H1019V1399ZM1045 1399V1385H1053V1399ZM1062 1399V1386H1069V1399ZM1070 1399V1383H1078V1399ZM1079 1399V1389H1086V1399ZM1096 1399V1392H1103V1399ZM1104 1399V1378H1111V1399ZM1138 1399V1376H1145V1399ZM1163 1399V1387H1170V1399ZM1171 1399V1389H1179V1399ZM1188 1399V1386H1196V1399ZM1197 1399V1388H1204V1399ZM1205 1399V1387H1212V1399ZM1247 1399V1391H1254V1399ZM1255 1399V1391H1263V1399ZM1297 1399V1378H1305V1399ZM1331 1399V1375H1339V1399ZM1348 1399V1350H1355V1399ZM1356 1399V1356H1364V1399ZM1382 1399V1381H1389V1399ZM1390 1399V1388H1397V1399ZM1398 1399V1373H1406V1399ZM1440 1399V1349H1448V1399ZM1466 1399V1376H1473V1399ZM1474 1399V1362H1482V1399ZM1491 1399V1383H1498V1399ZM1508 1399V1383H1515V1399ZM1533 1399V1385H1540V1399ZM1541 1399V1378H1549V1399ZM1550 1399V1384H1557V1399ZM1558 1399V1379H1566V1399ZM1575 1399V1375H1582V1399ZM1600 1399V1378H1608V1399ZM1609 1399V1364H1616V1399ZM1634 1399V1382H1641V1399ZM1642 1399V1382H1650V1399ZM1651 1399V1381H1658V1399ZM1676 1399V1386H1683V1399ZM1718 1399V1383H1725V1399ZM1735 1399V1362H1742V1399ZM1768 1399V1367H1776V1399ZM1777 1399V1358H1784V1399ZM1794 1399V1381H1801V1399ZM1802 1399V1382H1809V1399ZM1810 1399V1380H1818V1399ZM1819 1399V1389H1826V1399ZM1827 1399V1385H1835V1399ZM1836 1399V1375H1843V1399ZM1869 1399V1388H1877V1399ZM1886 1399V1387H1894V1399ZM1903 1399V1382H1910V1399ZM1911 1399V1321H1919V1399ZM1920 1399V1379H1927V1399ZM1953 1399V1390H1961V1399ZM1970 1399V1384H1978V1399ZM1979 1399V1390H1986V1399ZM1987 1399V1391H1995V1399ZM1996 1399V1391H2003V1399ZM2012 1399V1390H2020V1399ZM2038 1399V1391H2045V1399ZM2046 1399V1392H2053V1399ZM2063 1399V1388H2070V1399ZM2080 1399V1389H2087V1399ZM2138 1399V1299H2146V1399ZM2181 1399V1213H2188V1399ZM2189 1399V1391H2196V1399Z" fill="rgb(239,83,80)" fill-opacity="0.5"/><path d="M930.0 892.2C937.1 893.1 969.5 897.7 983.1 899.6C996.8 901.5 1019.7 904.6 1032.6 906.3C1045.5 907.9 1067.1 910.1 1080.0 911.9C1092.9 913.7 1116.3 917.7 1129.5 919.8C1142.7 921.8 1165.7 925.1 1178.9 927.2C1192.1 929.4 1215.2 933.6 1228.4 935.9C1241.6 938.2 1264.7 942.5 1277.9 944.5C1291.1 946.5 1317.7 949.7 1327.3 950.7C1337.0 951.8 1343.0 951.4 1350.0 952.4C1357.0 953.4 1371.4 956.6 1379.7 958.1C1387.9 959.6 1402.6 962.3 1411.8 963.8C1421.1 965.3 1440.7 968.1 1448.9 969.3C1457.2 970.4 1467.1 971.5 1473.7 972.5C1480.3 973.5 1491.8 975.7 1498.4 976.7C1505.0 977.6 1516.5 978.7 1523.1 979.6C1529.7 980.6 1541.3 982.6 1547.9 983.6C1554.5 984.6 1566.0 986.2 1572.6 987.1C1579.2 987.9 1591.0 989.2 1597.3 989.8C1603.7 990.4 1613.7 991.3 1620.0 991.8C1626.3 992.3 1638.1 993.2 1644.7 993.8C1651.3 994.4 1662.9 995.6 1669.5 996.3C1676.1 996.9 1687.6 998.1 1694.2 998.7C1700.8 999.3 1712.3 1000.4 1718.9 1000.7C1725.5 1001.0 1737.1 1001.2 1743.7 1001.2C1750.3 1001.2 1761.8 1000.7 1768.4 1000.5C1775.0 1000.3 1788.2 999.8 1793.1 999.7C1798.1 999.7 1802.2 999.9 1805.5 1000.0C1808.8 1000.1 1812.9 1000.1 1817.9 1000.5C1822.8 1000.9 1836.0 1002.3 1842.6 1002.9C1849.2 1003.5 1861.0 1004.4 1867.3 1004.9C1873.7 1005.4 1883.7 1006.1 1890.0 1006.6C1896.3 1007.1 1908.1 1008.1 1914.7 1008.6C1921.3 1009.1 1932.9 1010.3 1939.5 1010.6C1946.1 1010.9 1957.6 1010.9 1964.2 1011.1C1970.8 1011.3 1982.3 1011.6 1988.9 1011.8C1995.5 1012.1 2007.1 1012.5 2013.7 1012.8C2020.3 1013.1 2031.8 1013.7 2038.4 1014.1C2045.0 1014.4 2056.5 1015.0 2063.1 1015.3C2069.7 1015.6 2081.3 1016.0 2087.9 1016.0C2094.5 1016.1 2108.8 1015.7 2112.6 1015.5C2116.5 1015.4 2114.3 1016.4 2116.7 1014.9C2119.1 1013.4 2125.8 1008.6 2130.3 1004.5C2134.8 1000.4 2145.9 990.4 2150.7 984.1C2155.5 977.7 2162.3 965.0 2166.6 956.9C2170.8 948.7 2179.0 929.0 2182.4 922.9C2185.9 916.7 2191.1 912.3 2192.4 910.6" fill="none" stroke="#2962ff" stroke-width="2" stroke-linejoin="round"/><path d="M18.0 972.5C19.8 972.3 28.5 971.7 31.6 971.2C34.7 970.8 38.1 970.4 41.1 969.3C44.0 968.2 48.4 965.2 53.7 963.0C59.1 960.8 75.4 957.1 81.2 952.9C87.0 948.7 93.0 935.7 97.3 931.7C101.7 927.7 109.9 925.3 113.8 922.9C117.6 920.4 122.8 916.1 126.4 913.4C130.0 910.8 137.5 905.7 140.6 903.0C143.8 900.2 146.9 897.5 150.1 892.9C153.4 888.2 161.7 872.6 165.0 868.2C168.2 863.8 171.2 863.3 174.4 859.7C177.7 856.0 186.2 845.3 189.6 840.7C193.0 836.2 197.0 827.5 199.7 825.6C202.5 823.6 206.9 826.2 210.2 825.9C213.4 825.6 220.2 823.8 224.4 823.3C228.6 822.9 236.3 822.5 241.8 822.7C247.2 822.9 260.4 824.2 265.5 824.9C270.6 825.6 277.7 827.6 280.0 828.1C282.3 828.6 280.4 828.7 282.4 828.8C284.3 828.9 290.8 829.3 294.7 828.8C298.7 828.3 307.9 826.0 312.0 825.1C316.2 824.2 322.7 822.9 325.7 822.1C328.6 821.3 330.8 819.2 334.3 818.9C337.8 818.6 347.0 819.4 351.6 819.6C356.2 819.9 365.1 820.5 368.9 820.6C372.7 820.8 377.4 820.9 380.1 820.6C382.7 820.4 384.9 820.0 388.7 818.9C392.5 817.8 403.9 814.7 408.5 812.7C413.1 810.7 419.9 806.2 423.4 804.1C426.8 801.9 430.9 798.1 434.5 796.6C438.1 795.2 446.1 794.1 450.6 793.4C455.0 792.8 463.9 792.0 467.9 791.7C471.8 791.4 476.9 791.2 480.2 791.2C483.5 791.2 488.7 791.0 492.6 791.7C496.6 792.4 505.3 795.6 509.9 796.6C514.5 797.7 521.9 798.7 527.2 799.9C532.6 801.0 546.6 804.5 550.0 805.3C553.3 806.1 550.4 805.8 552.4 805.5C554.3 805.2 561.4 804.0 564.7 803.0C568.0 802.0 573.8 799.1 577.1 798.1C580.4 797.1 586.2 796.0 589.5 795.6C592.8 795.2 598.5 795.1 601.8 795.1C605.1 795.2 609.3 795.3 614.2 795.9C619.2 796.4 632.3 797.8 638.9 799.3C645.5 800.9 657.1 804.8 663.7 807.5C670.3 810.2 683.5 817.2 688.4 819.9C693.4 822.5 697.5 825.5 700.8 827.3C704.1 829.0 709.8 831.5 713.1 833.0C716.4 834.5 722.2 837.0 725.5 838.4C728.8 839.8 732.9 841.4 737.9 843.4C742.8 845.3 756.0 850.6 762.6 853.2C769.2 855.9 780.8 860.2 787.3 863.1C793.9 866.1 807.7 873.4 812.1 875.5C816.4 877.7 817.0 878.1 820.0 879.2C823.0 880.4 829.5 881.7 834.7 884.2C840.0 886.8 854.5 895.5 859.5 898.3C864.4 901.1 866.9 902.9 871.8 905.3C876.8 907.7 890.0 913.4 896.6 916.4C903.2 919.4 914.7 924.7 921.3 927.5C927.9 930.4 937.8 935.0 946.0 937.9C954.3 940.8 974.9 945.9 983.1 949.0C991.4 952.2 1002.6 959.0 1007.9 961.4C1013.2 963.8 1017.4 965.2 1022.7 967.1C1028.0 969.0 1041.2 973.2 1047.5 975.8C1053.7 978.3 1064.0 983.9 1069.7 986.1C1075.4 988.4 1086.0 991.4 1090.0 992.8C1094.0 994.2 1097.2 995.2 1099.8 996.5C1102.4 997.8 1104.1 1000.2 1109.7 1002.6C1115.3 1005.1 1132.6 1011.6 1141.8 1015.0C1151.1 1018.5 1170.7 1025.4 1178.9 1028.6C1187.2 1031.8 1197.1 1036.2 1203.7 1039.0C1210.3 1041.8 1221.8 1047.1 1228.4 1049.6C1235.0 1052.2 1246.5 1056.0 1253.1 1058.3C1259.7 1060.6 1271.3 1065.1 1277.9 1067.0C1284.5 1068.8 1296.0 1070.8 1302.6 1071.9C1309.2 1073.0 1321.4 1074.1 1327.3 1075.1C1333.3 1076.1 1342.8 1078.1 1347.1 1079.3C1351.5 1080.5 1356.3 1083.0 1360.0 1084.3C1363.7 1085.6 1369.5 1087.2 1374.7 1089.2C1380.0 1091.2 1392.9 1097.4 1399.5 1099.1C1406.1 1100.9 1417.6 1101.8 1424.2 1102.3C1430.8 1102.9 1443.0 1102.9 1448.9 1103.3C1454.9 1103.7 1463.8 1104.2 1468.7 1105.3C1473.7 1106.4 1479.4 1109.7 1486.0 1111.5C1492.6 1113.2 1511.3 1117.2 1518.2 1118.4C1525.1 1119.7 1532.4 1119.8 1538.0 1120.9C1543.6 1121.9 1555.0 1124.8 1560.2 1126.3C1565.5 1127.8 1574.3 1131.2 1577.6 1132.0C1580.9 1132.8 1580.7 1132.9 1585.0 1132.5C1589.3 1132.1 1604.8 1129.9 1609.7 1128.8C1614.7 1127.7 1619.4 1125.3 1622.1 1124.3C1624.8 1123.3 1627.6 1121.9 1629.9 1121.3C1632.3 1120.6 1636.2 1119.6 1639.8 1119.4C1643.4 1119.3 1651.5 1119.8 1657.1 1119.9C1662.7 1120.1 1677.2 1120.4 1681.8 1120.4C1686.5 1120.4 1689.1 1120.3 1691.7 1119.9C1694.4 1119.6 1698.0 1118.8 1701.6 1117.9C1705.3 1117.1 1714.0 1115.3 1718.9 1113.7C1723.9 1112.2 1734.1 1108.6 1738.7 1106.3C1743.3 1104.0 1749.6 1099.5 1753.6 1096.4C1757.5 1093.4 1764.8 1086.0 1768.4 1083.3C1772.0 1080.7 1777.1 1078.9 1780.8 1076.6C1784.4 1074.4 1792.0 1067.9 1795.6 1066.3C1799.2 1064.6 1804.5 1064.9 1808.0 1064.3C1811.4 1063.7 1818.0 1061.9 1821.6 1061.8C1825.2 1061.7 1830.4 1063.2 1835.2 1063.8C1840.0 1064.3 1853.2 1065.8 1857.5 1066.0C1861.7 1066.2 1864.0 1065.2 1867.3 1065.5C1870.6 1065.8 1877.8 1067.8 1882.2 1068.5C1886.5 1069.1 1897.0 1070.1 1900.0 1070.5C1903.0 1070.8 1901.9 1070.5 1904.8 1071.0C1907.8 1071.4 1917.5 1073.6 1922.2 1074.2C1926.8 1074.8 1935.2 1075.6 1939.5 1075.4C1943.8 1075.2 1950.4 1073.9 1954.3 1072.9C1958.3 1071.9 1964.5 1069.2 1969.2 1068.0C1973.8 1066.7 1983.0 1064.3 1988.9 1063.5C1994.9 1062.8 2007.1 1062.5 2013.7 1062.3C2020.3 1062.1 2031.8 1061.7 2038.4 1061.8C2045.0 1061.9 2056.5 1063.2 2063.1 1063.0C2069.7 1062.9 2082.6 1061.3 2087.9 1060.6C2093.2 1059.8 2099.1 1058.7 2102.9 1057.6C2106.7 1056.4 2114.0 1055.2 2116.7 1052.1C2119.4 1048.9 2121.7 1040.6 2123.5 1033.9C2125.3 1027.3 2128.2 1010.7 2130.3 1002.2C2132.4 993.7 2136.6 980.1 2139.4 970.5C2142.1 960.8 2147.7 942.4 2150.7 929.7C2153.7 917.0 2159.0 889.2 2162.0 875.3C2165.1 861.4 2170.5 837.0 2173.4 825.4C2176.3 813.8 2181.3 795.6 2183.8 788.2C2186.3 780.8 2191.3 772.1 2192.4 769.6" fill="none" stroke="#f23645" stroke-width="2" stroke-linejoin="round"/><path d="M18.0 956.7C19.8 956.5 28.5 955.9 31.6 955.4C34.7 954.9 37.9 955.1 41.1 952.9C44.2 950.7 50.0 942.3 55.3 938.7C60.7 935.1 75.6 932.6 81.2 926.0C86.8 919.5 93.0 896.2 97.3 889.7C101.7 883.2 109.9 880.5 113.8 877.1C117.6 873.6 122.8 867.2 126.4 863.8C130.0 860.3 137.5 854.6 140.6 851.2C143.8 847.7 146.9 844.1 150.1 837.6C153.4 831.0 161.7 807.9 165.0 801.9C168.2 795.8 171.2 797.6 174.4 792.4C177.7 787.1 186.2 768.2 189.6 762.7C193.0 757.1 197.0 751.1 199.7 750.7C202.5 750.2 206.9 757.9 210.2 759.5C213.4 761.1 220.2 761.1 224.4 762.7C228.6 764.2 236.3 768.0 241.8 771.2C247.2 774.4 260.4 783.2 265.5 787.0C270.6 790.8 277.7 797.7 280.0 799.6C282.3 801.6 280.7 800.8 282.4 801.6C284.0 802.3 289.8 804.6 292.3 805.3C294.7 806.0 298.3 807.0 300.9 806.5C303.6 806.0 308.8 802.6 312.0 801.6C315.3 800.6 322.7 800.0 325.7 799.1C328.6 798.2 331.8 795.2 334.3 794.9C336.8 794.6 340.9 796.0 344.2 797.1C347.5 798.3 354.8 801.9 359.0 803.3C363.3 804.7 372.7 807.3 376.4 807.8C380.0 808.2 383.6 807.5 386.3 806.5C388.9 805.6 393.3 802.3 396.1 800.8C399.0 799.4 404.3 797.4 407.3 795.4C410.2 793.4 415.9 788.0 418.4 785.5C420.9 783.0 423.8 779.3 425.8 776.9C427.8 774.4 430.9 769.1 433.2 767.5C435.6 765.8 440.2 764.9 443.1 764.5C446.1 764.1 452.2 764.4 455.5 764.5C458.8 764.6 464.6 764.7 467.9 765.2C471.2 765.7 476.9 767.4 480.2 768.2C483.5 769.0 488.7 768.5 492.6 771.2C496.6 773.8 505.3 784.8 509.9 788.0C514.5 791.2 521.9 792.6 527.2 795.4C532.6 798.2 546.6 807.1 550.0 809.0C553.3 810.9 550.7 810.5 552.4 810.0C554.0 809.4 560.0 806.5 562.3 805.0C564.6 803.5 567.7 800.6 569.7 798.8C571.7 797.1 574.8 793.6 577.1 791.9C579.4 790.3 584.5 787.3 587.0 786.5C589.5 785.6 593.3 785.6 595.7 785.7C598.0 785.9 601.8 787.3 604.3 787.7C606.8 788.1 611.6 788.4 614.2 788.9C616.8 789.4 620.8 790.1 624.1 791.4C627.4 792.7 635.3 796.7 638.9 798.8C642.6 801.0 648.0 805.0 651.3 807.5C654.6 810.0 660.4 814.4 663.7 817.4C667.0 820.4 672.7 826.3 676.0 829.8C679.3 833.2 685.8 840.1 688.4 843.4C691.0 846.7 693.2 851.4 695.8 854.5C698.5 857.6 704.9 863.4 708.2 866.9C711.5 870.3 717.9 878.0 720.6 880.5C723.2 882.9 724.7 883.4 728.0 885.4C731.3 887.4 740.7 892.5 745.3 895.3C749.9 898.1 758.0 903.6 762.6 906.4C767.2 909.2 775.3 913.3 779.9 916.3C784.5 919.4 793.0 926.5 797.2 929.4C801.5 932.4 809.1 936.6 812.1 938.6C815.1 940.6 816.3 942.1 819.9 944.2C823.6 946.2 835.1 951.0 839.7 954.0C844.3 956.9 850.2 962.7 854.5 966.4C858.8 970.0 867.2 978.1 871.8 981.2C876.5 984.3 883.5 986.1 889.2 989.4C894.8 992.7 908.9 1003.1 913.9 1005.9C918.8 1008.8 922.0 1009.7 926.3 1010.9C930.5 1012.0 941.1 1013.7 946.0 1014.6C951.0 1015.5 958.7 1017.0 963.4 1017.8C968.0 1018.6 976.1 1018.6 980.7 1020.3C985.3 1022.0 992.4 1027.7 998.0 1030.7C1003.6 1033.6 1016.8 1040.6 1022.7 1042.5C1028.7 1044.5 1037.9 1044.0 1042.5 1045.0C1047.1 1046.0 1053.4 1048.4 1057.3 1050.0C1061.3 1051.5 1068.9 1055.1 1072.2 1056.6C1075.5 1058.2 1079.7 1060.6 1082.1 1061.6C1084.5 1062.6 1087.6 1063.2 1090.0 1064.1C1092.4 1064.9 1097.2 1066.0 1099.8 1067.7C1102.4 1069.4 1107.0 1074.9 1109.7 1076.9C1112.3 1078.8 1116.6 1081.4 1119.6 1082.5C1122.5 1083.7 1129.0 1084.6 1131.9 1085.5C1134.9 1086.4 1137.9 1088.0 1141.8 1089.2C1145.8 1090.4 1156.3 1093.2 1161.6 1094.7C1166.9 1096.1 1175.8 1098.0 1181.4 1100.4C1187.0 1102.7 1198.7 1109.8 1203.7 1112.2C1208.6 1114.7 1214.6 1117.3 1218.5 1118.9C1222.5 1120.5 1229.4 1123.3 1233.4 1124.3C1237.3 1125.4 1243.9 1126.1 1248.2 1127.1C1252.5 1128.0 1261.9 1130.6 1265.5 1131.3C1269.1 1131.9 1272.1 1132.1 1275.4 1132.0C1278.7 1131.9 1286.0 1131.0 1290.2 1130.5C1294.5 1130.1 1302.9 1129.6 1307.6 1128.8C1312.2 1128.0 1320.3 1125.3 1324.9 1124.6C1329.5 1123.8 1338.6 1122.9 1342.2 1123.1C1345.8 1123.3 1349.7 1125.2 1352.1 1126.3C1354.4 1127.4 1356.6 1129.7 1359.9 1131.3C1363.3 1132.9 1371.9 1135.7 1377.2 1138.2C1382.5 1140.7 1394.2 1148.3 1399.5 1149.8C1404.7 1151.4 1412.2 1151.1 1416.8 1149.8C1421.4 1148.5 1428.2 1141.9 1434.1 1139.9C1440.0 1137.9 1456.4 1135.5 1461.3 1135.0C1466.3 1134.5 1467.9 1135.1 1471.2 1136.2C1474.5 1137.4 1479.8 1141.3 1486.0 1143.6C1492.3 1145.9 1511.3 1152.4 1518.2 1153.5C1525.1 1154.7 1533.4 1152.0 1538.0 1152.3C1542.6 1152.6 1547.5 1153.9 1552.8 1156.0C1558.1 1158.1 1572.4 1167.9 1577.6 1168.4C1582.7 1168.9 1586.5 1162.4 1591.2 1159.7C1595.8 1157.0 1608.1 1151.6 1612.2 1148.1C1616.3 1144.6 1620.1 1136.6 1622.1 1133.7C1624.1 1130.9 1626.4 1128.1 1627.4 1126.9C1628.5 1125.6 1628.7 1125.6 1630.0 1124.6C1631.3 1123.6 1633.7 1119.9 1637.3 1119.4C1640.9 1119.0 1651.2 1120.8 1657.1 1121.2C1663.0 1121.5 1677.2 1122.1 1681.8 1121.9C1686.5 1121.7 1689.1 1120.7 1691.7 1119.9C1694.4 1119.2 1697.7 1118.1 1701.6 1116.2C1705.6 1114.3 1716.5 1108.9 1721.4 1105.6C1726.4 1102.3 1734.4 1096.2 1738.7 1091.5C1743.0 1086.8 1750.3 1075.8 1753.6 1070.5C1756.9 1065.1 1760.8 1055.2 1763.5 1051.4C1766.1 1047.6 1770.4 1044.4 1773.4 1042.0C1776.3 1039.6 1782.8 1035.7 1785.7 1033.4C1788.7 1031.0 1792.6 1025.9 1795.6 1024.7C1798.6 1023.5 1805.0 1024.1 1808.0 1024.2C1811.0 1024.3 1815.6 1024.6 1817.9 1025.2C1820.2 1025.8 1822.7 1026.9 1825.3 1028.4C1827.9 1029.9 1834.7 1034.4 1837.7 1036.3C1840.6 1038.2 1844.9 1041.3 1847.6 1042.5C1850.2 1043.8 1855.1 1045.2 1857.5 1045.7C1859.8 1046.2 1862.2 1045.0 1864.9 1046.2C1867.5 1047.5 1873.6 1052.9 1877.2 1055.1C1880.9 1057.3 1889.0 1061.4 1892.1 1062.5C1895.1 1063.7 1898.3 1063.3 1900.0 1063.5C1901.7 1063.8 1902.5 1063.4 1904.8 1064.3C1907.1 1065.1 1913.9 1068.5 1917.2 1070.0C1920.5 1071.4 1926.3 1074.2 1929.6 1074.9C1932.9 1075.6 1938.6 1075.8 1941.9 1075.4C1945.2 1075.0 1951.3 1073.3 1954.3 1071.7C1957.3 1070.0 1960.6 1065.7 1964.2 1063.0C1967.8 1060.4 1977.6 1053.5 1981.5 1051.9C1985.5 1050.4 1990.3 1051.2 1993.9 1051.4C1997.5 1051.6 2005.1 1053.2 2008.7 1053.6C2012.4 1054.1 2018.5 1055.0 2021.1 1054.9C2023.7 1054.7 2026.2 1053.0 2028.5 1052.6C2030.8 1052.3 2035.8 1051.7 2038.4 1051.9C2041.0 1052.1 2045.0 1053.7 2048.3 1054.4C2051.6 1055.0 2059.5 1056.6 2063.1 1056.9C2066.8 1057.1 2072.2 1056.4 2075.5 1056.1C2078.8 1055.8 2085.2 1054.9 2087.9 1054.4C2090.5 1053.9 2092.7 1053.7 2095.3 1052.4C2097.9 1051.1 2104.8 1047.3 2107.6 1044.9C2110.5 1042.4 2114.6 1042.1 2116.7 1033.9C2118.8 1025.8 2121.4 998.6 2123.5 984.1C2125.6 969.6 2128.9 943.9 2132.6 925.1C2136.2 906.4 2146.8 862.3 2150.7 843.5C2154.6 824.8 2158.7 803.9 2162.0 784.6C2165.4 765.2 2172.7 714.2 2175.6 698.4C2178.5 682.7 2181.6 673.6 2183.8 666.7C2186.0 659.7 2191.3 649.0 2192.4 646.3" fill="none" stroke="#1b5e20" stroke-width="2" stroke-linejoin="round"/><line x1="18" y1="522.5" x2="2590" y2="522.5" stroke="#e0533f" stroke-width="1.2" stroke-dasharray="1.1 1.9"/><path d="M22.5 921.9V955.4M31.5 922.9V1027.2M39.5 940.3V997.2M48.5 873.3V989.3M56.5 832.2V922.9M64.5 844.8V927.0M73.5 878.0V927.0M81.5 873.3V907.1M90.5 737.1V889.7M98.5 737.1V824.9M106.5 769.0V863.8M115.5 815.4V851.2M123.5 772.8V824.9M132.5 771.2V815.4M140.5 787.0V838.5M149.5 732.3V798.1M157.5 696.3V769.6M165.5 643.2V741.2M174.5 668.5V763.3M182.5 673.2V727.0M191.5 614.1V696.9M199.5 598.3V683.7M207.5 670.7V898.6M216.5 741.2V842.3M224.5 753.8V798.7M233.5 779.7V834.4M241.5 791.1V833.5M249.5 811.3V900.8M258.5 811.3V860.6M266.5 829.0V859.7M275.5 845.4V887.7M283.5 865.2V908.7M291.5 827.1V874.6M300.5 805.8V851.8M308.5 777.6V834.5M317.5 770.7V807.8M325.5 759.0V797.9M334.5 752.9V801.6M342.5 753.4V835.5M350.5 791.0V830.5M359.5 810.2V866.6M367.5 833.7V869.6M376.5 817.2V846.1M384.5 799.1V847.3M392.5 736.8V807.3M401.5 740.2V797.9M409.5 749.2V778.6M418.5 707.1V768.7M426.5 694.0V797.9M434.5 638.8V731.8M443.5 676.2V797.9M451.5 741.5V778.6M460.5 757.8V795.4M468.5 757.1V787.5M477.5 756.3V798.6M485.5 778.1V819.6M493.5 787.2V805.8M502.5 796.6V909.2M510.5 870.1V912.9M519.5 822.1V896.8M527.5 808.5V844.9M535.5 815.9V862.7M544.5 840.9V904.7M552.5 814.9V869.8M561.5 772.1V862.6M569.5 744.9V808.0M577.5 709.8V778.6M586.5 714.7V758.5M594.5 743.9V775.8M603.5 768.7V805.5M611.5 756.8V815.7M619.5 760.0V853.7M628.5 797.1V852.5M636.5 837.9V946.0M645.5 838.9V882.9M653.5 847.1V911.9M662.5 870.1V902.7M670.5 880.0V932.9M678.5 915.1V1002.2M687.5 942.3V967.8M695.5 952.9V1006.6M704.5 967.8V1002.9M712.5 962.8V1014.0M720.5 952.9V986.8M729.5 944.8V1002.9M737.5 936.1V979.9M746.5 909.6V946.0M754.5 922.0V972.0M762.5 944.8V976.9M771.5 960.8V988.1M779.5 953.9V986.8M788.5 955.2V1007.1M796.5 981.9V1007.1M805.5 970.7V1000.4M813.5 982.9V1001.0M821.5 993.6V1024.5M830.5 1000.5V1015.1M838.5 989.1V1009.6M847.5 995.3V1016.6M855.5 1002.2V1100.4M863.5 1051.2V1071.5M872.5 1038.8V1076.9M880.5 1028.2V1067.0M889.5 1026.2V1044.3M897.5 1024.0V1060.8M905.5 1033.1V1067.8M914.5 1057.9V1079.6M922.5 1046.0V1079.6M931.5 1020.0V1050.0M939.5 1014.6V1054.7M947.5 1021.3V1043.0M956.5 1019.0V1043.0M964.5 1020.0V1051.7M973.5 1016.3V1050.5M981.5 1009.2V1043.8M990.5 1035.6V1078.9M998.5 1067.3V1122.7M1006.5 1071.0V1103.6M1015.5 1068.3V1107.8M1023.5 1064.1V1090.8M1032.5 1059.9V1087.6M1040.5 1043.5V1070.7M1048.5 1045.5V1085.6M1057.5 1064.1V1089.5M1065.5 1071.5V1087.6M1074.5 1085.1V1110.6M1082.5 1101.6V1106.5M1090.5 1091.0V1119.6M1099.5 1093.4V1111.5M1107.5 1108.5V1187.7M1116.5 1146.1V1167.9M1124.5 1111.0V1153.5M1132.5 1090.0V1137.9M1141.5 1092.4V1135.5M1149.5 1097.1V1138.7M1158.5 1101.1V1117.7M1166.5 1108.5V1128.8M1175.5 1115.2V1130.0M1183.5 1115.9V1128.8M1191.5 1120.1V1187.7M1200.5 1150.6V1165.9M1208.5 1139.9V1169.6M1217.5 1151.1V1165.9M1225.5 1146.1V1167.6M1233.5 1134.2V1156.0M1242.5 1133.0V1152.8M1250.5 1132.0V1149.8M1259.5 1147.3V1163.9M1267.5 1148.1V1162.7M1275.5 1127.1V1151.6M1284.5 1125.8V1145.6M1292.5 1109.0V1152.8M1301.5 1109.0V1137.0M1309.5 1117.7V1146.1M1318.5 1106.0V1133.2M1326.5 1090.0V1119.4M1334.5 1096.6V1128.1M1343.5 1112.7V1138.7M1351.5 1102.1V1152.8M1360.5 1133.7V1193.8M1368.5 1154.0V1221.1M1376.5 1162.2V1187.4M1385.5 1171.6V1198.8M1393.5 1173.3V1191.9M1402.5 1188.2V1214.1M1410.5 1141.2V1204.7M1418.5 1121.4V1173.8M1427.5 1097.9V1149.8M1435.5 1085.0V1147.8M1444.5 1085.0V1140.4M1452.5 1120.1V1163.9M1460.5 1107.3V1123.8M1469.5 1117.7V1146.1M1477.5 1129.5V1227.0M1486.5 1166.4V1203.7M1494.5 1161.7V1184.0M1503.5 1172.1V1203.0M1511.5 1166.4V1182.0M1519.5 1167.1V1188.7M1528.5 1135.0V1174.1M1536.5 1133.7V1149.8M1545.5 1130.0V1177.8M1553.5 1162.9V1185.7M1561.5 1173.3V1217.1M1570.5 1191.9V1217.1M1578.5 1191.4V1253.7M1587.5 1119.6V1230.2M1595.5 1101.6V1137.0M1603.5 1100.4V1132.5M1612.5 1090.0V1124.3M1620.5 1050.7V1154.6M1629.5 1035.1V1059.3M1637.5 1039.0V1062.5M1646.5 1053.9V1126.6M1654.5 1118.2V1148.9M1662.5 1110.0V1138.5M1671.5 1103.8V1129.8M1679.5 1110.0V1133.5M1688.5 1124.9V1162.7M1696.5 1074.2V1136.7M1704.5 1056.9V1089.0M1713.5 1062.3V1099.6M1721.5 1054.9V1084.8M1730.5 1022.2V1080.4M1738.5 1023.0V1079.6M1746.5 985.1V1057.6M1755.5 969.0V1042.0M1763.5 918.8V985.9M1772.5 931.2V1013.6M1780.5 973.2V1054.4M1788.5 920.8V994.5M1797.5 967.8V993.8M1805.5 970.8V1030.9M1814.5 988.1V1040.8M1822.5 1006.9V1037.6M1831.5 1033.4V1109.5M1839.5 1082.8V1162.7M1847.5 1084.1V1118.7M1856.5 1066.7V1103.8M1864.5 1045.2V1115.5M1873.5 1046.2V1125.4M1881.5 1094.0V1134.8M1889.5 1089.0V1122.4M1898.5 1063.0V1114.5M1906.5 1048.2V1084.6M1915.5 1070.5V1196.6M1923.5 1090.2V1121.7M1931.5 1088.5V1114.2M1940.5 1060.1V1105.6M1948.5 1033.4V1090.7M1957.5 1032.6V1063.0M1965.5 995.0V1065.5M1973.5 988.1V1035.8M1982.5 990.1V1030.9M1990.5 1001.2V1046.2M1999.5 1029.2V1079.9M2007.5 1044.0V1073.4M2016.5 1050.2V1081.6M2024.5 1030.9V1070.5M2032.5 1027.2V1053.1M2041.5 1032.6V1068.7M2049.5 1043.2V1090.7M2058.5 1058.1V1088.5M2066.5 1054.9V1087.8M2074.5 1027.9V1092.0M2083.5 1042.0V1066.7M2091.5 1020.2V1068.0M2100.5 992.0V1028.9M2108.5 1001.2V1021.7M2116.5 971.0V1030.9M2125.5 752.3V973.5M2133.5 643.8V831.5M2142.5 649.6V740.8M2150.5 605.4V700.4M2159.5 558.5V643.8M2167.5 451.5V598.5M2175.5 454.2V570.8M2184.5 457.3V548.8M2192.5 501.5V524.6" stroke="#6f6f6f" stroke-width="1" fill="none"/><path d="M19.5 934.5H25.5V950.5H19.5ZM45.5 878.5H51.5V979.5H45.5ZM53.5 866.5H59.5V878.5H53.5ZM78.5 887.5H84.5V903.5H78.5ZM87.5 778.5H93.5V887.5H87.5ZM95.5 771.5H101.5V778.5H95.5ZM112.5 816.5H118.5V848.5H112.5ZM120.5 796.5H126.5V816.5H120.5ZM129.5 789.5H135.5V796.5H129.5ZM146.5 741.5H152.5V794.5H146.5ZM154.5 705.5H160.5V741.5H154.5ZM162.5 672.5H168.5V705.5H162.5ZM179.5 686.5H185.5V724.5H179.5ZM188.5 639.5H194.5V686.5H188.5ZM213.5 787.5H219.5V842.5H213.5ZM255.5 832.5H261.5V855.5H255.5ZM280.5 870.5H286.5V884.5H280.5ZM288.5 841.5H294.5V870.5H288.5ZM297.5 827.5H303.5V841.5H297.5ZM305.5 780.5H311.5V827.5H305.5ZM314.5 772.5H320.5V780.5H314.5ZM331.5 757.5H337.5V789.5H331.5ZM347.5 810.5H353.5V814.5H347.5ZM364.5 835.5H370.5V849.5H364.5ZM373.5 834.5H379.5V835.5H373.5ZM381.5 804.5H387.5V834.5H381.5ZM389.5 757.5H395.5V804.5H389.5ZM415.5 725.5H421.5V768.5H415.5ZM423.5 698.5H429.5V725.5H423.5ZM431.5 688.5H437.5V698.5H431.5ZM465.5 763.5H471.5V776.5H465.5ZM516.5 825.5H522.5V886.5H516.5ZM549.5 856.5H555.5V865.5H549.5ZM558.5 780.5H564.5V856.5H558.5ZM566.5 756.5H572.5V780.5H566.5ZM574.5 716.5H580.5V756.5H574.5ZM608.5 772.5H614.5V805.5H608.5ZM701.5 977.5H707.5V997.5H701.5ZM726.5 962.5H732.5V980.5H726.5ZM734.5 944.5H740.5V962.5H734.5ZM743.5 934.5H749.5V944.5H743.5ZM768.5 964.5H774.5V972.5H768.5ZM776.5 962.5H782.5V963.5H776.5ZM793.5 990.5H799.5V1001.5H793.5ZM810.5 995.5H816.5V1000.5H810.5ZM827.5 1002.5H833.5V1007.5H827.5ZM835.5 1000.5H841.5V1002.5H835.5ZM869.5 1057.5H875.5V1071.5H869.5ZM877.5 1032.5H883.5V1057.5H877.5ZM919.5 1047.5H925.5V1075.5H919.5ZM928.5 1037.5H934.5V1047.5H928.5ZM936.5 1026.5H942.5V1037.5H936.5ZM961.5 1030.5H967.5V1040.5H961.5ZM970.5 1023.5H976.5V1030.5H970.5ZM1003.5 1079.5H1009.5V1093.5H1003.5ZM1020.5 1078.5H1026.5V1080.5H1020.5ZM1029.5 1062.5H1035.5V1080.5H1029.5ZM1037.5 1047.5H1043.5V1062.5H1037.5ZM1054.5 1074.5H1060.5V1076.5H1054.5ZM1087.5 1093.5H1093.5V1106.5H1087.5ZM1113.5 1152.5H1119.5V1160.5H1113.5ZM1121.5 1117.5H1127.5V1152.5H1121.5ZM1129.5 1102.5H1135.5V1117.5H1129.5ZM1146.5 1115.5H1152.5V1131.5H1146.5ZM1155.5 1109.5H1161.5V1115.5H1155.5ZM1180.5 1121.5H1186.5V1125.5H1180.5ZM1214.5 1160.5H1220.5V1161.5H1214.5ZM1222.5 1154.5H1228.5V1160.5H1222.5ZM1230.5 1151.5H1236.5V1155.5H1230.5ZM1239.5 1133.5H1245.5V1152.5H1239.5ZM1264.5 1151.5H1270.5V1157.5H1264.5ZM1272.5 1133.5H1278.5V1151.5H1272.5ZM1281.5 1130.5H1287.5V1133.5H1281.5ZM1289.5 1112.5H1295.5V1130.5H1289.5ZM1306.5 1124.5H1312.5V1126.5H1306.5ZM1315.5 1115.5H1321.5V1124.5H1315.5ZM1323.5 1097.5H1329.5V1115.5H1323.5ZM1340.5 1119.5H1346.5V1122.5H1340.5ZM1365.5 1178.5H1371.5V1186.5H1365.5ZM1373.5 1172.5H1379.5V1178.5H1373.5ZM1407.5 1153.5H1413.5V1201.5H1407.5ZM1415.5 1137.5H1421.5V1153.5H1415.5ZM1424.5 1110.5H1430.5V1137.5H1424.5ZM1432.5 1096.5H1438.5V1110.5H1432.5ZM1449.5 1122.5H1455.5V1126.5H1449.5ZM1457.5 1117.5H1463.5V1122.5H1457.5ZM1483.5 1178.5H1489.5V1185.5H1483.5ZM1500.5 1175.5H1506.5V1180.5H1500.5ZM1516.5 1173.5H1522.5V1181.5H1516.5ZM1525.5 1146.5H1531.5V1173.5H1525.5ZM1567.5 1195.5H1573.5V1209.5H1567.5ZM1584.5 1125.5H1590.5V1219.5H1584.5ZM1592.5 1107.5H1598.5V1125.5H1592.5ZM1617.5 1055.5H1623.5V1114.5H1617.5ZM1626.5 1047.5H1632.5V1055.5H1626.5ZM1659.5 1126.5H1665.5V1137.5H1659.5ZM1668.5 1119.5H1674.5V1126.5H1668.5ZM1685.5 1126.5H1691.5V1127.5H1685.5ZM1693.5 1086.5H1699.5V1125.5H1693.5ZM1701.5 1077.5H1707.5V1086.5H1701.5ZM1710.5 1069.5H1716.5V1077.5H1710.5ZM1727.5 1034.5H1733.5V1076.5H1727.5ZM1743.5 1004.5H1749.5V1039.5H1743.5ZM1752.5 976.5H1758.5V1004.5H1752.5ZM1760.5 932.5H1766.5V976.5H1760.5ZM1785.5 973.5H1791.5V982.5H1785.5ZM1844.5 1094.5H1850.5V1104.5H1844.5ZM1853.5 1083.5H1859.5V1093.5H1853.5ZM1861.5 1054.5H1867.5V1083.5H1861.5ZM1878.5 1102.5H1884.5V1121.5H1878.5ZM1895.5 1074.5H1901.5V1114.5H1895.5ZM1928.5 1104.5H1934.5V1114.5H1928.5ZM1937.5 1085.5H1943.5V1103.5H1937.5ZM1945.5 1035.5H1951.5V1085.5H1945.5ZM1962.5 996.5H1968.5V1054.5H1962.5ZM2004.5 1060.5H2010.5V1070.5H2004.5ZM2021.5 1049.5H2027.5V1064.5H2021.5ZM2029.5 1036.5H2035.5V1049.5H2029.5ZM2055.5 1063.5H2061.5V1082.5H2055.5ZM2071.5 1048.5H2077.5V1077.5H2071.5ZM2088.5 1021.5H2094.5V1059.5H2088.5ZM2097.5 1013.5H2103.5V1021.5H2097.5ZM2105.5 1007.5H2111.5V1013.5H2105.5ZM2113.5 973.5H2119.5V1007.5H2113.5ZM2122.5 766.5H2128.5V973.5H2122.5ZM2130.5 671.5H2136.5V766.5H2130.5ZM2147.5 626.5H2153.5V693.5H2147.5ZM2156.5 573.5H2162.5V626.5H2156.5ZM2164.5 493.5H2170.5V574.5H2164.5ZM2172.5 466.5H2178.5V493.5H2172.5Z" fill="#6da886" stroke="#1a5230" stroke-width="1"/><path d="M28.5 934.5H34.5V955.5H28.5ZM36.5 954.5H42.5V979.5H36.5ZM61.5 866.5H67.5V892.5H61.5ZM70.5 892.5H76.5V903.5H70.5ZM103.5 771.5H109.5V848.5H103.5ZM137.5 789.5H143.5V794.5H137.5ZM171.5 672.5H177.5V724.5H171.5ZM196.5 639.5H202.5V670.5H196.5ZM204.5 670.5H210.5V843.5H204.5ZM221.5 786.5H227.5V787.5H221.5ZM230.5 787.5H236.5V811.5H230.5ZM238.5 811.5H244.5V813.5H238.5ZM246.5 813.5H252.5V855.5H246.5ZM263.5 832.5H269.5V849.5H263.5ZM272.5 849.5H278.5V884.5H272.5ZM322.5 772.5H328.5V789.5H322.5ZM339.5 757.5H345.5V814.5H339.5ZM356.5 810.5H362.5V849.5H356.5ZM398.5 757.5H404.5V763.5H398.5ZM406.5 763.5H412.5V768.5H406.5ZM440.5 688.5H446.5V746.5H440.5ZM448.5 746.5H454.5V761.5H448.5ZM457.5 761.5H463.5V776.5H457.5ZM474.5 763.5H480.5V782.5H474.5ZM482.5 782.5H488.5V795.5H482.5ZM490.5 794.5H496.5V799.5H490.5ZM499.5 799.5H505.5V876.5H499.5ZM507.5 876.5H513.5V885.5H507.5ZM524.5 825.5H530.5V838.5H524.5ZM532.5 838.5H538.5V855.5H532.5ZM541.5 855.5H547.5V865.5H541.5ZM583.5 716.5H589.5V749.5H583.5ZM591.5 749.5H597.5V772.5H591.5ZM600.5 772.5H606.5V805.5H600.5ZM616.5 772.5H622.5V826.5H616.5ZM625.5 826.5H631.5V843.5H625.5ZM633.5 843.5H639.5V846.5H633.5ZM642.5 847.5H648.5V857.5H642.5ZM650.5 857.5H656.5V887.5H650.5ZM659.5 887.5H665.5V894.5H659.5ZM667.5 894.5H673.5V919.5H667.5ZM675.5 919.5H681.5V952.5H675.5ZM684.5 952.5H690.5V964.5H684.5ZM692.5 964.5H698.5V997.5H692.5ZM709.5 977.5H715.5V978.5H709.5ZM717.5 978.5H723.5V980.5H717.5ZM751.5 934.5H757.5V961.5H751.5ZM759.5 961.5H765.5V972.5H759.5ZM785.5 962.5H791.5V1001.5H785.5ZM802.5 990.5H808.5V1000.5H802.5ZM818.5 995.5H824.5V1007.5H818.5ZM844.5 1000.5H850.5V1013.5H844.5ZM852.5 1013.5H858.5V1058.5H852.5ZM860.5 1058.5H866.5V1071.5H860.5ZM886.5 1032.5H892.5V1037.5H886.5ZM894.5 1037.5H900.5V1044.5H894.5ZM902.5 1043.5H908.5V1061.5H902.5ZM911.5 1061.5H917.5V1076.5H911.5ZM944.5 1026.5H950.5V1027.5H944.5ZM953.5 1027.5H959.5V1040.5H953.5ZM978.5 1023.5H984.5V1035.5H978.5ZM987.5 1035.5H993.5V1071.5H987.5ZM995.5 1071.5H1001.5V1093.5H995.5ZM1012.5 1079.5H1018.5V1081.5H1012.5ZM1045.5 1047.5H1051.5V1076.5H1045.5ZM1062.5 1074.5H1068.5V1087.5H1062.5ZM1071.5 1087.5H1077.5V1101.5H1071.5ZM1079.5 1101.5H1085.5V1106.5H1079.5ZM1096.5 1093.5H1102.5V1108.5H1096.5ZM1104.5 1108.5H1110.5V1160.5H1104.5ZM1138.5 1102.5H1144.5V1131.5H1138.5ZM1163.5 1109.5H1169.5V1121.5H1163.5ZM1172.5 1121.5H1178.5V1125.5H1172.5ZM1188.5 1121.5H1194.5V1157.5H1188.5ZM1197.5 1157.5H1203.5V1158.5H1197.5ZM1205.5 1157.5H1211.5V1160.5H1205.5ZM1247.5 1134.5H1253.5V1148.5H1247.5ZM1256.5 1149.5H1262.5V1157.5H1256.5ZM1298.5 1112.5H1304.5V1126.5H1298.5ZM1331.5 1097.5H1337.5V1122.5H1331.5ZM1348.5 1119.5H1354.5V1143.5H1348.5ZM1357.5 1143.5H1363.5V1186.5H1357.5ZM1382.5 1172.5H1388.5V1183.5H1382.5ZM1390.5 1183.5H1396.5V1190.5H1390.5ZM1399.5 1190.5H1405.5V1201.5H1399.5ZM1441.5 1096.5H1447.5V1126.5H1441.5ZM1466.5 1117.5H1472.5V1136.5H1466.5ZM1474.5 1136.5H1480.5V1185.5H1474.5ZM1491.5 1178.5H1497.5V1180.5H1491.5ZM1508.5 1175.5H1514.5V1181.5H1508.5ZM1533.5 1146.5H1539.5V1147.5H1533.5ZM1542.5 1147.5H1548.5V1169.5H1542.5ZM1550.5 1169.5H1556.5V1177.5H1550.5ZM1558.5 1177.5H1564.5V1209.5H1558.5ZM1575.5 1195.5H1581.5V1219.5H1575.5ZM1600.5 1107.5H1606.5V1108.5H1600.5ZM1609.5 1107.5H1615.5V1115.5H1609.5ZM1634.5 1047.5H1640.5V1062.5H1634.5ZM1643.5 1062.5H1649.5V1125.5H1643.5ZM1651.5 1125.5H1657.5V1137.5H1651.5ZM1676.5 1119.5H1682.5V1127.5H1676.5ZM1718.5 1069.5H1724.5V1076.5H1718.5ZM1735.5 1034.5H1741.5V1039.5H1735.5ZM1769.5 932.5H1775.5V980.5H1769.5ZM1777.5 980.5H1783.5V982.5H1777.5ZM1794.5 973.5H1800.5V982.5H1794.5ZM1802.5 982.5H1808.5V1023.5H1802.5ZM1811.5 1023.5H1817.5V1028.5H1811.5ZM1819.5 1028.5H1825.5V1037.5H1819.5ZM1828.5 1037.5H1834.5V1099.5H1828.5ZM1836.5 1099.5H1842.5V1104.5H1836.5ZM1870.5 1054.5H1876.5V1122.5H1870.5ZM1886.5 1102.5H1892.5V1113.5H1886.5ZM1903.5 1074.5H1909.5V1084.5H1903.5ZM1912.5 1084.5H1918.5V1113.5H1912.5ZM1920.5 1113.5H1926.5V1114.5H1920.5ZM1954.5 1035.5H1960.5V1054.5H1954.5ZM1970.5 996.5H1976.5V1002.5H1970.5ZM1979.5 1002.5H1985.5V1020.5H1979.5ZM1987.5 1020.5H1993.5V1044.5H1987.5ZM1996.5 1044.5H2002.5V1070.5H1996.5ZM2013.5 1060.5H2019.5V1064.5H2013.5ZM2038.5 1036.5H2044.5V1051.5H2038.5ZM2046.5 1052.5H2052.5V1082.5H2046.5ZM2063.5 1063.5H2069.5V1077.5H2063.5ZM2080.5 1048.5H2086.5V1059.5H2080.5ZM2139.5 671.5H2145.5V693.5H2139.5ZM2181.5 466.5H2187.5V508.5H2181.5ZM2189.5 508.5H2195.5V521.5H2189.5Z" fill="#d9533f" stroke="#62170d" stroke-width="1"/></g><path d="M18 307.5H2708M18 1400.5H2708M2590.5 49V1450" stroke="#545454" stroke-width="1.3" fill="none"/><text x="2607" y="84.8" font-family="Liberation Sans, sans-serif" font-size="22" fill="#5d5d5d">80.00</text><text x="2607" y="136.6" font-family="Liberation Sans, sans-serif" font-size="22" fill="#5d5d5d">60.00</text><text x="2607" y="209.6" font-family="Liberation Sans, sans-serif" font-size="22" fill="#5d5d5d">40.00</text><text x="2607" y="273.8" font-family="Liberation Sans, sans-serif" font-size="22" fill="#5d5d5d">28.00</text><text x="2607" y="377.4" font-family="Liberation Sans, sans-serif" font-size="22" fill="#5d5d5d">1,100.00</text><text x="2607" y="447.5" font-family="Liberation Sans, sans-serif" font-size="22" fill="#5d5d5d">800.00</text><text x="2607" y="507.1" font-family="Liberation Sans, sans-serif" font-size="22" fill="#5d5d5d">600.00</text><text x="2607" y="571.4" font-family="Liberation Sans, sans-serif" font-size="22" fill="#5d5d5d">440.00</text><text x="2607" y="624.9" font-family="Liberation Sans, sans-serif" font-size="22" fill="#5d5d5d">340.00</text><text x="2607" y="680.5" font-family="Liberation Sans, sans-serif" font-size="22" fill="#5d5d5d">260.00</text><text x="2607" y="734.9" font-family="Liberation Sans, sans-serif" font-size="22" fill="#5d5d5d">200.00</text><text x="2607" y="794.5" font-family="Liberation Sans, sans-serif" font-size="22" fill="#5d5d5d">150.00</text><text x="2607" y="858.8" font-family="Liberation Sans, sans-serif" font-size="22" fill="#5d5d5d">110.00</text><text x="2607" y="912.2" font-family="Liberation Sans, sans-serif" font-size="22" fill="#5d5d5d">85.00</text><text x="2607" y="967.9" font-family="Liberation Sans, sans-serif" font-size="22" fill="#5d5d5d">65.00</text><text x="2607" y="1026.4" font-family="Liberation Sans, sans-serif" font-size="22" fill="#5d5d5d">49.00</text><text x="2607" y="1084.7" font-family="Liberation Sans, sans-serif" font-size="22" fill="#5d5d5d">37.00</text><text x="2607" y="1135.2" font-family="Liberation Sans, sans-serif" font-size="22" fill="#5d5d5d">29.00</text><text x="2607" y="1192.4" font-family="Liberation Sans, sans-serif" font-size="22" fill="#5d5d5d">22.00</text><text x="2607" y="1245.9" font-family="Liberation Sans, sans-serif" font-size="22" fill="#5d5d5d">17.00</text><text x="2607" y="1301.5" font-family="Liberation Sans, sans-serif" font-size="22" fill="#5d5d5d">13.00</text><text x="2607" y="1355.9" font-family="Liberation Sans, sans-serif" font-size="22" fill="#5d5d5d">10.00</text><rect x="2591" y="308" width="116" height="59.7" fill="#f2dfcd"/><rect x="2597" y="315" width="104.6" height="46" rx="7" fill="#ffffff"/><text x="2642.5" y="345.3" font-family="Liberation Sans, sans-serif" font-size="21" fill="#131722" text-anchor="middle">USDT</text><path d="M2486.3 508H2591V537H2486.3A3 3 0 0 1 2483.3 534V511A3 3 0 0 1 2486.3 508Z" fill="#d9503f"/><path d="M2590 508H2681.4A3 3 0 0 1 2684.4 511V556.6A3 3 0 0 1 2681.4 559.6H2590Z" fill="#d9503f"/><text x="2489.8" y="530" font-family="Liberation Sans, sans-serif" font-size="20" fill="#ffffff">ZECUSDT</text><text x="2607" y="530" font-family="Liberation Sans, sans-serif" font-size="22" fill="#ffffff">537.50</text><text x="2607" y="553" font-family="Liberation Sans, sans-serif" font-size="22" fill="#ffffff" fill-opacity="0.8">6d 10h</text><text x="48.6" y="1432" font-family="Liberation Sans, sans-serif" font-size="20" font-weight="bold" letter-spacing="2.2" fill="#4a4d52" text-anchor="middle">2021</text><text x="267.3" y="1432" font-family="Liberation Sans, sans-serif" font-size="20" fill="#555555" text-anchor="middle">Jul</text><text x="485.9" y="1432" font-family="Liberation Sans, sans-serif" font-size="20" font-weight="bold" letter-spacing="2.2" fill="#4a4d52" text-anchor="middle">2022</text><text x="704.6" y="1432" font-family="Liberation Sans, sans-serif" font-size="20" fill="#555555" text-anchor="middle">Jul</text><text x="923.2" y="1432" font-family="Liberation Sans, sans-serif" font-size="20" font-weight="bold" letter-spacing="2.2" fill="#4a4d52" text-anchor="middle">2023</text><text x="1141.9" y="1432" font-family="Liberation Sans, sans-serif" font-size="20" fill="#555555" text-anchor="middle">Jul</text><text x="1360.6" y="1432" font-family="Liberation Sans, sans-serif" font-size="20" font-weight="bold" letter-spacing="2.2" fill="#4a4d52" text-anchor="middle">2024</text><text x="1579.2" y="1432" font-family="Liberation Sans, sans-serif" font-size="20" fill="#555555" text-anchor="middle">Jul</text><text x="1806.3" y="1432" font-family="Liberation Sans, sans-serif" font-size="20" font-weight="bold" letter-spacing="2.2" fill="#4a4d52" text-anchor="middle">2025</text><text x="2025.0" y="1432" font-family="Liberation Sans, sans-serif" font-size="20" fill="#555555" text-anchor="middle">Jul</text><text x="2243.6" y="1432" font-family="Liberation Sans, sans-serif" font-size="20" font-weight="bold" letter-spacing="2.2" fill="#4a4d52" text-anchor="middle">2026</text><text x="2462.3" y="1432" font-family="Liberation Sans, sans-serif" font-size="20" fill="#555555" text-anchor="middle">Jul</text><text x="33.3" y="84.8" font-family="Liberation Sans, sans-serif" font-size="22" fill="#4b5056">RSI (14, close)</text><text x="190.7" y="84.8" font-family="Liberation Sans, sans-serif" font-size="22.5" fill="#7e57c2">73.46</text><text x="260.6" y="84.8" font-family="Liberation Sans, sans-serif" font-size="22.5" fill="#fdd835">76.63</text><text x="32.8" y="344.3" font-family="Liberation Sans, sans-serif" font-size="22" fill="#4b5056">Zcash / TetherUS · 1W · Binance</text><text x="370" y="344.3" font-family="Liberation Sans, sans-serif" font-size="22" fill="#4b5056">O</text><text x="386.9" y="344.3" font-family="Liberation Sans, sans-serif" font-size="22.5" fill="#6b1212">572.80</text><text x="470.5" y="344.3" font-family="Liberation Sans, sans-serif" font-size="22" fill="#4b5056">H</text><text x="486.6" y="344.3" font-family="Liberation Sans, sans-serif" font-size="22.5" fill="#6b1212">590.40</text><text x="571.4" y="344.3" font-family="Liberation Sans, sans-serif" font-size="22" fill="#4b5056">L</text><text x="584.5" y="344.3" font-family="Liberation Sans, sans-serif" font-size="22.5" fill="#6b1212">529.00</text><text x="667" y="344.3" font-family="Liberation Sans, sans-serif" font-size="22" fill="#4b5056">C</text><text x="683.5" y="344.3" font-family="Liberation Sans, sans-serif" font-size="22.5" fill="#6b1212">537.50</text><text x="765" y="344.3" font-family="Liberation Sans, sans-serif" font-size="22.5" fill="#6b1212">−35.41 (−6.18%)</text><text x="32.8" y="375.4" font-family="Liberation Sans, sans-serif" font-size="22" fill="#4b5056">EMA (50, close)</text><text x="205.3" y="375.4" font-family="Liberation Sans, sans-serif" font-size="22.5" fill="#f23645">162.64</text><text x="32.8" y="406.4" font-family="Liberation Sans, sans-serif" font-size="22" fill="#4b5056">EMA (200, close)</text><text x="219.3" y="406.4" font-family="Liberation Sans, sans-serif" font-size="22.5" fill="#2962ff">82.45</text><text x="32.8" y="437.4" font-family="Liberation Sans, sans-serif" font-size="22" fill="#4b5056">Vol · ZEC</text><text x="137.5" y="437.4" font-family="Liberation Sans, sans-serif" font-size="22.5" fill="#f7525f">307.61 K</text><text x="32.8" y="468.4" font-family="Liberation Sans, sans-serif" font-size="22" fill="#4b5056">EMA (20, close)</text><text x="205.3" y="468.4" font-family="Liberation Sans, sans-serif" font-size="22.5" fill="#1b5e20">293.94</text><path d="M21.35 1490H43V1516.6H32.34V1500.4H21.35Z" fill="#dcdcdc"/><circle cx="52.25" cy="1494.9" r="5.3" fill="#dcdcdc"/><path d="M62.7 1490H75.4L64.96 1516.6H52.25Z" fill="#dcdcdc"/><text x="87" y="1516.8" font-family="Liberation Sans, sans-serif" font-size="38" font-weight="bold" fill="#dcdcdc" letter-spacing="-0.5">TradingView</text></svg></body></html>
